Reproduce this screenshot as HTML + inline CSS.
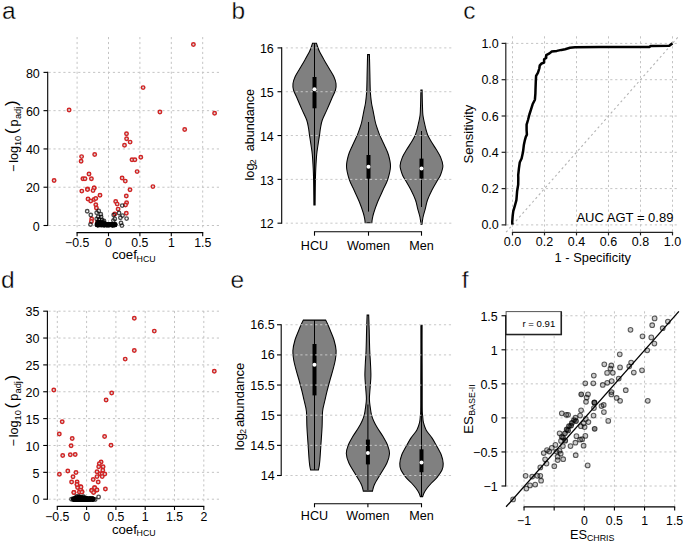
<!DOCTYPE html>
<html><head><meta charset="utf-8"><style>
html,body{margin:0;padding:0;background:#fff;}
svg{display:block;}
text{font-family:"Liberation Sans",sans-serif;fill:#000;}
</style></head><body>
<svg width="685" height="543" viewBox="0 0 685 543">
<rect width="685" height="543" fill="#fff"/>
<text x="2.10" y="18.60" font-size="24.5" text-anchor="start" stroke="#fff" stroke-width="0.35">a</text>
<line x1="77.10" y1="37.00" x2="77.10" y2="229.00" stroke="#c4c4c4" stroke-width="1" stroke-dasharray="2.2 2.75" fill="none"/>
<line x1="108.50" y1="37.00" x2="108.50" y2="229.00" stroke="#c4c4c4" stroke-width="1" stroke-dasharray="2.2 2.75" fill="none"/>
<line x1="139.90" y1="37.00" x2="139.90" y2="229.00" stroke="#c4c4c4" stroke-width="1" stroke-dasharray="2.2 2.75" fill="none"/>
<line x1="171.30" y1="37.00" x2="171.30" y2="229.00" stroke="#c4c4c4" stroke-width="1" stroke-dasharray="2.2 2.75" fill="none"/>
<line x1="202.70" y1="37.00" x2="202.70" y2="229.00" stroke="#c4c4c4" stroke-width="1" stroke-dasharray="2.2 2.75" fill="none"/>
<line x1="48.50" y1="72.38" x2="220.00" y2="72.38" stroke="#c4c4c4" stroke-width="1" stroke-dasharray="2.2 2.75" fill="none"/>
<line x1="48.50" y1="110.66" x2="220.00" y2="110.66" stroke="#c4c4c4" stroke-width="1" stroke-dasharray="2.2 2.75" fill="none"/>
<line x1="48.50" y1="148.94" x2="220.00" y2="148.94" stroke="#c4c4c4" stroke-width="1" stroke-dasharray="2.2 2.75" fill="none"/>
<line x1="48.50" y1="187.22" x2="220.00" y2="187.22" stroke="#c4c4c4" stroke-width="1" stroke-dasharray="2.2 2.75" fill="none"/>
<line x1="48.50" y1="225.50" x2="220.00" y2="225.50" stroke="#c4c4c4" stroke-width="1" stroke-dasharray="2.2 2.75" fill="none"/>
<line x1="47.70" y1="72.38" x2="47.70" y2="225.50" stroke="#000" stroke-width="1.1" fill="none" stroke-linecap="square"/>
<line x1="43.50" y1="72.38" x2="47.70" y2="72.38" stroke="#000" stroke-width="1.1" fill="none"/>
<text x="39.80" y="77.63" font-size="12.5" text-anchor="end" >80</text>
<line x1="43.50" y1="110.66" x2="47.70" y2="110.66" stroke="#000" stroke-width="1.1" fill="none"/>
<text x="39.80" y="115.91" font-size="12.5" text-anchor="end" >60</text>
<line x1="43.50" y1="148.94" x2="47.70" y2="148.94" stroke="#000" stroke-width="1.1" fill="none"/>
<text x="39.80" y="154.19" font-size="12.5" text-anchor="end" >40</text>
<line x1="43.50" y1="187.22" x2="47.70" y2="187.22" stroke="#000" stroke-width="1.1" fill="none"/>
<text x="39.80" y="192.47" font-size="12.5" text-anchor="end" >20</text>
<line x1="43.50" y1="225.50" x2="47.70" y2="225.50" stroke="#000" stroke-width="1.1" fill="none"/>
<text x="39.80" y="230.75" font-size="12.5" text-anchor="end" >0</text>
<line x1="77.10" y1="232.60" x2="202.70" y2="232.60" stroke="#000" stroke-width="1.1" fill="none" stroke-linecap="square"/>
<line x1="77.10" y1="232.60" x2="77.10" y2="236.20" stroke="#000" stroke-width="1.1" fill="none"/>
<text x="77.10" y="246.80" font-size="12.3" text-anchor="middle" >−0.5</text>
<line x1="108.50" y1="232.60" x2="108.50" y2="236.20" stroke="#000" stroke-width="1.1" fill="none"/>
<text x="108.50" y="246.80" font-size="12.3" text-anchor="middle" >0</text>
<line x1="139.90" y1="232.60" x2="139.90" y2="236.20" stroke="#000" stroke-width="1.1" fill="none"/>
<text x="139.90" y="246.80" font-size="12.3" text-anchor="middle" >0.5</text>
<line x1="171.30" y1="232.60" x2="171.30" y2="236.20" stroke="#000" stroke-width="1.1" fill="none"/>
<text x="171.30" y="246.80" font-size="12.3" text-anchor="middle" >1</text>
<line x1="202.70" y1="232.60" x2="202.70" y2="236.20" stroke="#000" stroke-width="1.1" fill="none"/>
<text x="202.70" y="246.80" font-size="12.3" text-anchor="middle" >1.5</text>
<text x="111.9" y="259.4" font-size="13.2">coef</text><text x="136.6" y="261.6" font-size="8.8">HCU</text>
<g transform="translate(18.20,171.40) rotate(-90)">
<text x="-0.60" y="0.00" font-size="12.6">−</text>
<text x="8.60" y="0.00" font-size="12.6">log</text>
<text x="25.30" y="2.60" font-size="9.3">10</text>
<text x="37.30" y="-1.30" font-size="16.6">(</text>
<text x="45.00" y="0.00" font-size="12.6">p</text>
<text x="52.30" y="2.60" font-size="9.3">adj</text>
<text x="65.40" y="-1.30" font-size="16.6">)</text>
</g>
<circle cx="54.10" cy="180.50" r="1.75" fill="#d9dadb" stroke="#d12424" stroke-width="1.45"/>
<circle cx="69.10" cy="110.00" r="1.75" fill="#d9dadb" stroke="#d12424" stroke-width="1.45"/>
<circle cx="81.60" cy="156.60" r="1.75" fill="#d9dadb" stroke="#d12424" stroke-width="1.45"/>
<circle cx="81.10" cy="161.30" r="1.75" fill="#d9dadb" stroke="#d12424" stroke-width="1.45"/>
<circle cx="94.70" cy="154.40" r="1.75" fill="#d9dadb" stroke="#d12424" stroke-width="1.45"/>
<circle cx="89.00" cy="173.90" r="1.75" fill="#d9dadb" stroke="#d12424" stroke-width="1.45"/>
<circle cx="82.90" cy="178.70" r="1.75" fill="#d9dadb" stroke="#d12424" stroke-width="1.45"/>
<circle cx="85.00" cy="178.70" r="1.75" fill="#d9dadb" stroke="#d12424" stroke-width="1.45"/>
<circle cx="91.40" cy="178.70" r="1.75" fill="#d9dadb" stroke="#d12424" stroke-width="1.45"/>
<circle cx="87.50" cy="188.90" r="1.75" fill="#d9dadb" stroke="#d12424" stroke-width="1.45"/>
<circle cx="94.20" cy="188.00" r="1.75" fill="#d9dadb" stroke="#d12424" stroke-width="1.45"/>
<circle cx="81.80" cy="191.10" r="1.75" fill="#d9dadb" stroke="#d12424" stroke-width="1.45"/>
<circle cx="87.50" cy="189.40" r="1.75" fill="#d9dadb" stroke="#d12424" stroke-width="1.45"/>
<circle cx="94.10" cy="187.90" r="1.75" fill="#d9dadb" stroke="#d12424" stroke-width="1.45"/>
<circle cx="93.00" cy="190.60" r="1.75" fill="#d9dadb" stroke="#d12424" stroke-width="1.45"/>
<circle cx="100.00" cy="195.20" r="1.75" fill="#d9dadb" stroke="#d12424" stroke-width="1.45"/>
<circle cx="88.00" cy="198.90" r="1.75" fill="#d9dadb" stroke="#d12424" stroke-width="1.45"/>
<circle cx="90.70" cy="201.00" r="1.75" fill="#d9dadb" stroke="#d12424" stroke-width="1.45"/>
<circle cx="94.10" cy="199.40" r="1.75" fill="#d9dadb" stroke="#d12424" stroke-width="1.45"/>
<circle cx="95.80" cy="198.40" r="1.75" fill="#d9dadb" stroke="#d12424" stroke-width="1.45"/>
<circle cx="95.80" cy="204.70" r="1.75" fill="#d9dadb" stroke="#d12424" stroke-width="1.45"/>
<circle cx="96.40" cy="208.00" r="1.75" fill="#d9dadb" stroke="#d12424" stroke-width="1.45"/>
<circle cx="91.70" cy="218.90" r="1.75" fill="#d9dadb" stroke="#d12424" stroke-width="1.45"/>
<circle cx="91.40" cy="221.50" r="1.75" fill="#d9dadb" stroke="#d12424" stroke-width="1.45"/>
<circle cx="97.60" cy="222.10" r="1.75" fill="#d9dadb" stroke="#d12424" stroke-width="1.45"/>
<circle cx="126.50" cy="133.70" r="1.75" fill="#d9dadb" stroke="#d12424" stroke-width="1.45"/>
<circle cx="126.60" cy="138.80" r="1.75" fill="#d9dadb" stroke="#d12424" stroke-width="1.45"/>
<circle cx="130.10" cy="142.10" r="1.75" fill="#d9dadb" stroke="#d12424" stroke-width="1.45"/>
<circle cx="124.50" cy="145.20" r="1.75" fill="#d9dadb" stroke="#d12424" stroke-width="1.45"/>
<circle cx="140.80" cy="157.20" r="1.75" fill="#d9dadb" stroke="#d12424" stroke-width="1.45"/>
<circle cx="132.00" cy="159.80" r="1.75" fill="#d9dadb" stroke="#d12424" stroke-width="1.45"/>
<circle cx="134.90" cy="159.80" r="1.75" fill="#d9dadb" stroke="#d12424" stroke-width="1.45"/>
<circle cx="137.10" cy="171.60" r="1.75" fill="#d9dadb" stroke="#d12424" stroke-width="1.45"/>
<circle cx="122.10" cy="178.00" r="1.75" fill="#d9dadb" stroke="#d12424" stroke-width="1.45"/>
<circle cx="125.30" cy="181.10" r="1.75" fill="#d9dadb" stroke="#d12424" stroke-width="1.45"/>
<circle cx="130.00" cy="189.70" r="1.75" fill="#d9dadb" stroke="#d12424" stroke-width="1.45"/>
<circle cx="126.30" cy="195.90" r="1.75" fill="#d9dadb" stroke="#d12424" stroke-width="1.45"/>
<circle cx="115.70" cy="201.50" r="1.75" fill="#d9dadb" stroke="#d12424" stroke-width="1.45"/>
<circle cx="117.20" cy="204.10" r="1.75" fill="#d9dadb" stroke="#d12424" stroke-width="1.45"/>
<circle cx="126.60" cy="202.70" r="1.75" fill="#d9dadb" stroke="#d12424" stroke-width="1.45"/>
<circle cx="125.50" cy="205.00" r="1.75" fill="#d9dadb" stroke="#d12424" stroke-width="1.45"/>
<circle cx="118.10" cy="209.10" r="1.75" fill="#d9dadb" stroke="#d12424" stroke-width="1.45"/>
<circle cx="114.80" cy="213.90" r="1.75" fill="#d9dadb" stroke="#d12424" stroke-width="1.45"/>
<circle cx="126.30" cy="213.30" r="1.75" fill="#d9dadb" stroke="#d12424" stroke-width="1.45"/>
<circle cx="143.10" cy="87.60" r="1.75" fill="#d9dadb" stroke="#d12424" stroke-width="1.45"/>
<circle cx="159.90" cy="112.00" r="1.75" fill="#d9dadb" stroke="#d12424" stroke-width="1.45"/>
<circle cx="214.60" cy="113.30" r="1.75" fill="#d9dadb" stroke="#d12424" stroke-width="1.45"/>
<circle cx="184.70" cy="129.40" r="1.75" fill="#d9dadb" stroke="#d12424" stroke-width="1.45"/>
<circle cx="193.40" cy="44.40" r="1.75" fill="#d9dadb" stroke="#d12424" stroke-width="1.45"/>
<circle cx="152.90" cy="186.60" r="1.75" fill="#d9dadb" stroke="#d12424" stroke-width="1.45"/>
<circle cx="103.02" cy="224.66" r="1.75" fill="none" stroke="rgba(0,0,0,0.6)" stroke-width="1.35"/>
<circle cx="109.11" cy="224.63" r="1.75" fill="none" stroke="rgba(0,0,0,0.6)" stroke-width="1.35"/>
<circle cx="106.97" cy="224.75" r="1.75" fill="none" stroke="rgba(0,0,0,0.6)" stroke-width="1.35"/>
<circle cx="98.08" cy="224.80" r="1.75" fill="none" stroke="rgba(0,0,0,0.6)" stroke-width="1.35"/>
<circle cx="97.70" cy="224.77" r="1.75" fill="none" stroke="rgba(0,0,0,0.6)" stroke-width="1.35"/>
<circle cx="98.30" cy="224.64" r="1.75" fill="none" stroke="rgba(0,0,0,0.6)" stroke-width="1.35"/>
<circle cx="104.90" cy="224.93" r="1.75" fill="none" stroke="rgba(0,0,0,0.6)" stroke-width="1.35"/>
<circle cx="99.30" cy="224.69" r="1.75" fill="none" stroke="rgba(0,0,0,0.6)" stroke-width="1.35"/>
<circle cx="108.67" cy="224.98" r="1.75" fill="none" stroke="rgba(0,0,0,0.6)" stroke-width="1.35"/>
<circle cx="107.73" cy="224.76" r="1.75" fill="none" stroke="rgba(0,0,0,0.6)" stroke-width="1.35"/>
<circle cx="115.16" cy="224.62" r="1.75" fill="none" stroke="rgba(0,0,0,0.6)" stroke-width="1.35"/>
<circle cx="112.97" cy="224.72" r="1.75" fill="none" stroke="rgba(0,0,0,0.6)" stroke-width="1.35"/>
<circle cx="99.68" cy="224.65" r="1.75" fill="none" stroke="rgba(0,0,0,0.6)" stroke-width="1.35"/>
<circle cx="102.74" cy="224.93" r="1.75" fill="none" stroke="rgba(0,0,0,0.6)" stroke-width="1.35"/>
<circle cx="100.36" cy="224.83" r="1.75" fill="none" stroke="rgba(0,0,0,0.6)" stroke-width="1.35"/>
<circle cx="108.88" cy="224.75" r="1.75" fill="none" stroke="rgba(0,0,0,0.6)" stroke-width="1.35"/>
<circle cx="107.19" cy="224.63" r="1.75" fill="none" stroke="rgba(0,0,0,0.6)" stroke-width="1.35"/>
<circle cx="98.11" cy="224.68" r="1.75" fill="none" stroke="rgba(0,0,0,0.6)" stroke-width="1.35"/>
<circle cx="109.66" cy="224.77" r="1.75" fill="none" stroke="rgba(0,0,0,0.6)" stroke-width="1.35"/>
<circle cx="102.84" cy="224.83" r="1.75" fill="none" stroke="rgba(0,0,0,0.6)" stroke-width="1.35"/>
<circle cx="105.43" cy="224.72" r="1.75" fill="none" stroke="rgba(0,0,0,0.6)" stroke-width="1.35"/>
<circle cx="111.78" cy="224.88" r="1.75" fill="none" stroke="rgba(0,0,0,0.6)" stroke-width="1.35"/>
<circle cx="101.54" cy="224.83" r="1.75" fill="none" stroke="rgba(0,0,0,0.6)" stroke-width="1.35"/>
<circle cx="106.77" cy="224.95" r="1.75" fill="none" stroke="rgba(0,0,0,0.6)" stroke-width="1.35"/>
<circle cx="110.57" cy="224.72" r="1.75" fill="none" stroke="rgba(0,0,0,0.6)" stroke-width="1.35"/>
<circle cx="115.23" cy="224.65" r="1.75" fill="none" stroke="rgba(0,0,0,0.6)" stroke-width="1.35"/>
<circle cx="104.78" cy="224.90" r="1.75" fill="none" stroke="rgba(0,0,0,0.6)" stroke-width="1.35"/>
<circle cx="99.83" cy="224.80" r="1.75" fill="none" stroke="rgba(0,0,0,0.6)" stroke-width="1.35"/>
<circle cx="97.73" cy="224.87" r="1.75" fill="none" stroke="rgba(0,0,0,0.6)" stroke-width="1.35"/>
<circle cx="111.22" cy="224.83" r="1.75" fill="none" stroke="rgba(0,0,0,0.6)" stroke-width="1.35"/>
<circle cx="113.28" cy="224.73" r="1.75" fill="none" stroke="rgba(0,0,0,0.6)" stroke-width="1.35"/>
<circle cx="109.93" cy="224.84" r="1.75" fill="none" stroke="rgba(0,0,0,0.6)" stroke-width="1.35"/>
<circle cx="107.79" cy="224.78" r="1.75" fill="none" stroke="rgba(0,0,0,0.6)" stroke-width="1.35"/>
<circle cx="112.62" cy="224.98" r="1.75" fill="none" stroke="rgba(0,0,0,0.6)" stroke-width="1.35"/>
<circle cx="105.82" cy="224.87" r="1.75" fill="none" stroke="rgba(0,0,0,0.6)" stroke-width="1.35"/>
<circle cx="98.13" cy="224.88" r="1.75" fill="none" stroke="rgba(0,0,0,0.6)" stroke-width="1.35"/>
<circle cx="109.04" cy="225.00" r="1.75" fill="none" stroke="rgba(0,0,0,0.6)" stroke-width="1.35"/>
<circle cx="112.29" cy="224.71" r="1.75" fill="none" stroke="rgba(0,0,0,0.6)" stroke-width="1.35"/>
<circle cx="104.18" cy="224.87" r="1.75" fill="none" stroke="rgba(0,0,0,0.6)" stroke-width="1.35"/>
<circle cx="97.42" cy="224.78" r="1.75" fill="none" stroke="rgba(0,0,0,0.6)" stroke-width="1.35"/>
<circle cx="100.13" cy="224.65" r="1.75" fill="none" stroke="rgba(0,0,0,0.6)" stroke-width="1.35"/>
<circle cx="98.10" cy="224.91" r="1.75" fill="none" stroke="rgba(0,0,0,0.6)" stroke-width="1.35"/>
<circle cx="99.41" cy="224.70" r="1.75" fill="none" stroke="rgba(0,0,0,0.6)" stroke-width="1.35"/>
<circle cx="104.27" cy="224.95" r="1.75" fill="none" stroke="rgba(0,0,0,0.6)" stroke-width="1.35"/>
<circle cx="98.50" cy="224.78" r="1.75" fill="none" stroke="rgba(0,0,0,0.6)" stroke-width="1.35"/>
<circle cx="107.22" cy="224.95" r="1.75" fill="none" stroke="rgba(0,0,0,0.6)" stroke-width="1.35"/>
<circle cx="112.24" cy="224.95" r="1.75" fill="none" stroke="rgba(0,0,0,0.6)" stroke-width="1.35"/>
<circle cx="102.18" cy="224.77" r="1.75" fill="none" stroke="rgba(0,0,0,0.6)" stroke-width="1.35"/>
<circle cx="103.67" cy="224.95" r="1.75" fill="none" stroke="rgba(0,0,0,0.6)" stroke-width="1.35"/>
<circle cx="114.81" cy="224.66" r="1.75" fill="none" stroke="rgba(0,0,0,0.6)" stroke-width="1.35"/>
<circle cx="100.28" cy="224.69" r="1.75" fill="none" stroke="rgba(0,0,0,0.6)" stroke-width="1.35"/>
<circle cx="101.34" cy="224.79" r="1.75" fill="none" stroke="rgba(0,0,0,0.6)" stroke-width="1.35"/>
<circle cx="107.96" cy="224.71" r="1.75" fill="none" stroke="rgba(0,0,0,0.6)" stroke-width="1.35"/>
<circle cx="97.08" cy="224.77" r="1.75" fill="none" stroke="rgba(0,0,0,0.6)" stroke-width="1.35"/>
<circle cx="103.87" cy="224.83" r="1.75" fill="none" stroke="rgba(0,0,0,0.6)" stroke-width="1.35"/>
<circle cx="114.73" cy="224.88" r="1.75" fill="none" stroke="rgba(0,0,0,0.6)" stroke-width="1.35"/>
<circle cx="106.59" cy="224.85" r="1.75" fill="none" stroke="rgba(0,0,0,0.6)" stroke-width="1.35"/>
<circle cx="109.58" cy="224.62" r="1.75" fill="none" stroke="rgba(0,0,0,0.6)" stroke-width="1.35"/>
<circle cx="113.73" cy="224.91" r="1.75" fill="none" stroke="rgba(0,0,0,0.6)" stroke-width="1.35"/>
<circle cx="113.27" cy="224.92" r="1.75" fill="none" stroke="rgba(0,0,0,0.6)" stroke-width="1.35"/>
<circle cx="104.30" cy="224.76" r="1.75" fill="none" stroke="rgba(0,0,0,0.6)" stroke-width="1.35"/>
<circle cx="98.93" cy="224.85" r="1.75" fill="none" stroke="rgba(0,0,0,0.6)" stroke-width="1.35"/>
<circle cx="98.16" cy="224.63" r="1.75" fill="none" stroke="rgba(0,0,0,0.6)" stroke-width="1.35"/>
<circle cx="100.88" cy="224.66" r="1.75" fill="none" stroke="rgba(0,0,0,0.6)" stroke-width="1.35"/>
<circle cx="103.32" cy="224.62" r="1.75" fill="none" stroke="rgba(0,0,0,0.6)" stroke-width="1.35"/>
<circle cx="97.00" cy="224.66" r="1.75" fill="none" stroke="rgba(0,0,0,0.6)" stroke-width="1.35"/>
<circle cx="98.89" cy="224.75" r="1.75" fill="none" stroke="rgba(0,0,0,0.6)" stroke-width="1.35"/>
<circle cx="97.47" cy="224.95" r="1.75" fill="none" stroke="rgba(0,0,0,0.6)" stroke-width="1.35"/>
<circle cx="108.42" cy="224.66" r="1.75" fill="none" stroke="rgba(0,0,0,0.6)" stroke-width="1.35"/>
<circle cx="101.69" cy="224.74" r="1.75" fill="none" stroke="rgba(0,0,0,0.6)" stroke-width="1.35"/>
<circle cx="103.77" cy="224.65" r="1.75" fill="none" stroke="rgba(0,0,0,0.6)" stroke-width="1.35"/>
<circle cx="112.79" cy="225.00" r="1.75" fill="none" stroke="rgba(0,0,0,0.6)" stroke-width="1.35"/>
<circle cx="105.67" cy="224.79" r="1.75" fill="none" stroke="rgba(0,0,0,0.6)" stroke-width="1.35"/>
<circle cx="98.60" cy="224.64" r="1.75" fill="none" stroke="rgba(0,0,0,0.6)" stroke-width="1.35"/>
<circle cx="103.37" cy="224.71" r="1.75" fill="none" stroke="rgba(0,0,0,0.6)" stroke-width="1.35"/>
<circle cx="112.42" cy="224.66" r="1.75" fill="none" stroke="rgba(0,0,0,0.6)" stroke-width="1.35"/>
<circle cx="97.43" cy="224.98" r="1.75" fill="none" stroke="rgba(0,0,0,0.6)" stroke-width="1.35"/>
<circle cx="106.83" cy="224.66" r="1.75" fill="none" stroke="rgba(0,0,0,0.6)" stroke-width="1.35"/>
<circle cx="107.10" cy="224.61" r="1.75" fill="none" stroke="rgba(0,0,0,0.6)" stroke-width="1.35"/>
<circle cx="106.82" cy="224.99" r="1.75" fill="none" stroke="rgba(0,0,0,0.6)" stroke-width="1.35"/>
<circle cx="113.06" cy="224.88" r="1.75" fill="none" stroke="rgba(0,0,0,0.6)" stroke-width="1.35"/>
<circle cx="101.86" cy="224.75" r="1.75" fill="none" stroke="rgba(0,0,0,0.6)" stroke-width="1.35"/>
<circle cx="100.11" cy="224.91" r="1.75" fill="none" stroke="rgba(0,0,0,0.6)" stroke-width="1.35"/>
<circle cx="106.91" cy="224.91" r="1.75" fill="none" stroke="rgba(0,0,0,0.6)" stroke-width="1.35"/>
<circle cx="103.13" cy="224.69" r="1.75" fill="none" stroke="rgba(0,0,0,0.6)" stroke-width="1.35"/>
<circle cx="112.09" cy="224.99" r="1.75" fill="none" stroke="rgba(0,0,0,0.6)" stroke-width="1.35"/>
<circle cx="112.86" cy="224.92" r="1.75" fill="none" stroke="rgba(0,0,0,0.6)" stroke-width="1.35"/>
<circle cx="112.22" cy="224.90" r="1.75" fill="none" stroke="rgba(0,0,0,0.6)" stroke-width="1.35"/>
<circle cx="101.22" cy="224.81" r="1.75" fill="none" stroke="rgba(0,0,0,0.6)" stroke-width="1.35"/>
<circle cx="103.61" cy="224.61" r="1.75" fill="none" stroke="rgba(0,0,0,0.6)" stroke-width="1.35"/>
<circle cx="97.52" cy="224.71" r="1.75" fill="none" stroke="rgba(0,0,0,0.6)" stroke-width="1.35"/>
<circle cx="101.82" cy="224.88" r="1.75" fill="none" stroke="rgba(0,0,0,0.6)" stroke-width="1.35"/>
<circle cx="114.79" cy="224.78" r="1.75" fill="none" stroke="rgba(0,0,0,0.6)" stroke-width="1.35"/>
<circle cx="114.43" cy="225.00" r="1.75" fill="none" stroke="rgba(0,0,0,0.6)" stroke-width="1.35"/>
<circle cx="114.76" cy="224.75" r="1.75" fill="none" stroke="rgba(0,0,0,0.6)" stroke-width="1.35"/>
<circle cx="101.10" cy="224.69" r="1.75" fill="none" stroke="rgba(0,0,0,0.6)" stroke-width="1.35"/>
<circle cx="100.66" cy="224.68" r="1.75" fill="none" stroke="rgba(0,0,0,0.6)" stroke-width="1.35"/>
<circle cx="108.61" cy="224.96" r="1.75" fill="none" stroke="rgba(0,0,0,0.6)" stroke-width="1.35"/>
<circle cx="112.63" cy="224.79" r="1.75" fill="none" stroke="rgba(0,0,0,0.6)" stroke-width="1.35"/>
<circle cx="109.15" cy="224.92" r="1.75" fill="none" stroke="rgba(0,0,0,0.6)" stroke-width="1.35"/>
<circle cx="98.58" cy="224.86" r="1.75" fill="none" stroke="rgba(0,0,0,0.6)" stroke-width="1.35"/>
<circle cx="113.92" cy="224.91" r="1.75" fill="none" stroke="rgba(0,0,0,0.6)" stroke-width="1.35"/>
<circle cx="110.95" cy="224.79" r="1.75" fill="none" stroke="rgba(0,0,0,0.6)" stroke-width="1.35"/>
<circle cx="100.32" cy="224.92" r="1.75" fill="none" stroke="rgba(0,0,0,0.6)" stroke-width="1.35"/>
<circle cx="103.18" cy="224.92" r="1.75" fill="none" stroke="rgba(0,0,0,0.6)" stroke-width="1.35"/>
<circle cx="115.07" cy="224.76" r="1.75" fill="none" stroke="rgba(0,0,0,0.6)" stroke-width="1.35"/>
<circle cx="104.47" cy="224.98" r="1.75" fill="none" stroke="rgba(0,0,0,0.6)" stroke-width="1.35"/>
<circle cx="110.48" cy="224.67" r="1.75" fill="none" stroke="rgba(0,0,0,0.6)" stroke-width="1.35"/>
<circle cx="99.36" cy="224.66" r="1.75" fill="none" stroke="rgba(0,0,0,0.6)" stroke-width="1.35"/>
<circle cx="113.83" cy="224.92" r="1.75" fill="none" stroke="rgba(0,0,0,0.6)" stroke-width="1.35"/>
<circle cx="98.10" cy="223.62" r="1.75" fill="none" stroke="rgba(0,0,0,0.6)" stroke-width="1.35"/>
<circle cx="104.35" cy="223.25" r="1.75" fill="none" stroke="rgba(0,0,0,0.6)" stroke-width="1.35"/>
<circle cx="99.63" cy="223.01" r="1.75" fill="none" stroke="rgba(0,0,0,0.6)" stroke-width="1.35"/>
<circle cx="97.98" cy="221.83" r="1.75" fill="none" stroke="rgba(0,0,0,0.6)" stroke-width="1.35"/>
<circle cx="104.28" cy="223.23" r="1.75" fill="none" stroke="rgba(0,0,0,0.6)" stroke-width="1.35"/>
<circle cx="100.95" cy="223.85" r="1.75" fill="none" stroke="rgba(0,0,0,0.6)" stroke-width="1.35"/>
<circle cx="100.25" cy="223.72" r="1.75" fill="none" stroke="rgba(0,0,0,0.6)" stroke-width="1.35"/>
<circle cx="103.20" cy="222.26" r="1.75" fill="none" stroke="rgba(0,0,0,0.6)" stroke-width="1.35"/>
<circle cx="98.89" cy="222.44" r="1.75" fill="none" stroke="rgba(0,0,0,0.6)" stroke-width="1.35"/>
<circle cx="98.80" cy="223.09" r="1.75" fill="none" stroke="rgba(0,0,0,0.6)" stroke-width="1.35"/>
<circle cx="98.95" cy="222.72" r="1.75" fill="none" stroke="rgba(0,0,0,0.6)" stroke-width="1.35"/>
<circle cx="97.98" cy="223.80" r="1.75" fill="none" stroke="rgba(0,0,0,0.6)" stroke-width="1.35"/>
<circle cx="99.65" cy="222.81" r="1.75" fill="none" stroke="rgba(0,0,0,0.6)" stroke-width="1.35"/>
<circle cx="101.38" cy="223.79" r="1.75" fill="none" stroke="rgba(0,0,0,0.6)" stroke-width="1.35"/>
<circle cx="100.15" cy="223.82" r="1.75" fill="none" stroke="rgba(0,0,0,0.6)" stroke-width="1.35"/>
<circle cx="100.76" cy="222.97" r="1.75" fill="none" stroke="rgba(0,0,0,0.6)" stroke-width="1.35"/>
<circle cx="100.93" cy="221.84" r="1.75" fill="none" stroke="rgba(0,0,0,0.6)" stroke-width="1.35"/>
<circle cx="100.30" cy="222.20" r="1.75" fill="none" stroke="rgba(0,0,0,0.6)" stroke-width="1.35"/>
<circle cx="97.03" cy="223.56" r="1.75" fill="none" stroke="rgba(0,0,0,0.6)" stroke-width="1.35"/>
<circle cx="98.29" cy="222.84" r="1.75" fill="none" stroke="rgba(0,0,0,0.6)" stroke-width="1.35"/>
<circle cx="102.44" cy="223.02" r="1.75" fill="none" stroke="rgba(0,0,0,0.6)" stroke-width="1.35"/>
<circle cx="99.44" cy="222.94" r="1.75" fill="none" stroke="rgba(0,0,0,0.6)" stroke-width="1.35"/>
<circle cx="87.20" cy="211.20" r="1.75" fill="none" stroke="rgba(0,0,0,0.7)" stroke-width="1.35"/>
<circle cx="98.70" cy="210.90" r="1.75" fill="none" stroke="rgba(0,0,0,0.7)" stroke-width="1.35"/>
<circle cx="96.70" cy="212.70" r="1.75" fill="none" stroke="rgba(0,0,0,0.7)" stroke-width="1.35"/>
<circle cx="100.80" cy="214.20" r="1.75" fill="none" stroke="rgba(0,0,0,0.7)" stroke-width="1.35"/>
<circle cx="90.80" cy="215.00" r="1.75" fill="none" stroke="rgba(0,0,0,0.7)" stroke-width="1.35"/>
<circle cx="101.10" cy="216.80" r="1.75" fill="none" stroke="rgba(0,0,0,0.7)" stroke-width="1.35"/>
<circle cx="98.20" cy="216.80" r="1.75" fill="none" stroke="rgba(0,0,0,0.7)" stroke-width="1.35"/>
<circle cx="96.70" cy="218.90" r="1.75" fill="none" stroke="rgba(0,0,0,0.7)" stroke-width="1.35"/>
<circle cx="90.50" cy="224.50" r="1.75" fill="none" stroke="rgba(0,0,0,0.7)" stroke-width="1.35"/>
<circle cx="122.20" cy="205.60" r="1.75" fill="none" stroke="rgba(0,0,0,0.7)" stroke-width="1.35"/>
<circle cx="119.00" cy="213.00" r="1.75" fill="none" stroke="rgba(0,0,0,0.7)" stroke-width="1.35"/>
<circle cx="113.70" cy="215.00" r="1.75" fill="none" stroke="rgba(0,0,0,0.7)" stroke-width="1.35"/>
<circle cx="120.40" cy="217.70" r="1.75" fill="none" stroke="rgba(0,0,0,0.7)" stroke-width="1.35"/>
<circle cx="122.50" cy="215.60" r="1.75" fill="none" stroke="rgba(0,0,0,0.7)" stroke-width="1.35"/>
<circle cx="126.60" cy="218.60" r="1.75" fill="none" stroke="rgba(0,0,0,0.7)" stroke-width="1.35"/>
<circle cx="113.40" cy="220.60" r="1.75" fill="none" stroke="rgba(0,0,0,0.7)" stroke-width="1.35"/>
<circle cx="121.00" cy="223.00" r="1.75" fill="none" stroke="rgba(0,0,0,0.7)" stroke-width="1.35"/>
<circle cx="121.90" cy="225.60" r="1.75" fill="none" stroke="rgba(0,0,0,0.7)" stroke-width="1.35"/>
<circle cx="114.80" cy="218.90" r="1.75" fill="none" stroke="rgba(0,0,0,0.7)" stroke-width="1.35"/>
<circle cx="99.00" cy="219.50" r="1.75" fill="none" stroke="rgba(0,0,0,0.7)" stroke-width="1.35"/>
<circle cx="102.00" cy="220.00" r="1.75" fill="none" stroke="rgba(0,0,0,0.7)" stroke-width="1.35"/>
<circle cx="104.00" cy="221.00" r="1.75" fill="none" stroke="rgba(0,0,0,0.7)" stroke-width="1.35"/>
<text x="0.90" y="287.70" font-size="24.5" text-anchor="start" stroke="#fff" stroke-width="0.35">d</text>
<line x1="57.30" y1="311.00" x2="57.30" y2="504.00" stroke="#c4c4c4" stroke-width="1" stroke-dasharray="2.2 2.75" fill="none"/>
<line x1="86.60" y1="311.00" x2="86.60" y2="504.00" stroke="#c4c4c4" stroke-width="1" stroke-dasharray="2.2 2.75" fill="none"/>
<line x1="115.90" y1="311.00" x2="115.90" y2="504.00" stroke="#c4c4c4" stroke-width="1" stroke-dasharray="2.2 2.75" fill="none"/>
<line x1="145.20" y1="311.00" x2="145.20" y2="504.00" stroke="#c4c4c4" stroke-width="1" stroke-dasharray="2.2 2.75" fill="none"/>
<line x1="174.50" y1="311.00" x2="174.50" y2="504.00" stroke="#c4c4c4" stroke-width="1" stroke-dasharray="2.2 2.75" fill="none"/>
<line x1="203.80" y1="311.00" x2="203.80" y2="504.00" stroke="#c4c4c4" stroke-width="1" stroke-dasharray="2.2 2.75" fill="none"/>
<line x1="48.50" y1="311.18" x2="219.50" y2="311.18" stroke="#c4c4c4" stroke-width="1" stroke-dasharray="2.2 2.75" fill="none"/>
<line x1="48.50" y1="338.04" x2="219.50" y2="338.04" stroke="#c4c4c4" stroke-width="1" stroke-dasharray="2.2 2.75" fill="none"/>
<line x1="48.50" y1="364.90" x2="219.50" y2="364.90" stroke="#c4c4c4" stroke-width="1" stroke-dasharray="2.2 2.75" fill="none"/>
<line x1="48.50" y1="391.76" x2="219.50" y2="391.76" stroke="#c4c4c4" stroke-width="1" stroke-dasharray="2.2 2.75" fill="none"/>
<line x1="48.50" y1="418.62" x2="219.50" y2="418.62" stroke="#c4c4c4" stroke-width="1" stroke-dasharray="2.2 2.75" fill="none"/>
<line x1="48.50" y1="445.48" x2="219.50" y2="445.48" stroke="#c4c4c4" stroke-width="1" stroke-dasharray="2.2 2.75" fill="none"/>
<line x1="48.50" y1="472.34" x2="219.50" y2="472.34" stroke="#c4c4c4" stroke-width="1" stroke-dasharray="2.2 2.75" fill="none"/>
<line x1="48.50" y1="499.20" x2="219.50" y2="499.20" stroke="#c4c4c4" stroke-width="1" stroke-dasharray="2.2 2.75" fill="none"/>
<line x1="47.40" y1="311.18" x2="47.40" y2="499.20" stroke="#000" stroke-width="1.1" fill="none" stroke-linecap="square"/>
<line x1="43.20" y1="311.18" x2="47.40" y2="311.18" stroke="#000" stroke-width="1.1" fill="none"/>
<text x="39.50" y="316.43" font-size="12.5" text-anchor="end" >35</text>
<line x1="43.20" y1="338.04" x2="47.40" y2="338.04" stroke="#000" stroke-width="1.1" fill="none"/>
<text x="39.50" y="343.29" font-size="12.5" text-anchor="end" >30</text>
<line x1="43.20" y1="364.90" x2="47.40" y2="364.90" stroke="#000" stroke-width="1.1" fill="none"/>
<text x="39.50" y="370.15" font-size="12.5" text-anchor="end" >25</text>
<line x1="43.20" y1="391.76" x2="47.40" y2="391.76" stroke="#000" stroke-width="1.1" fill="none"/>
<text x="39.50" y="397.01" font-size="12.5" text-anchor="end" >20</text>
<line x1="43.20" y1="418.62" x2="47.40" y2="418.62" stroke="#000" stroke-width="1.1" fill="none"/>
<text x="39.50" y="423.87" font-size="12.5" text-anchor="end" >15</text>
<line x1="43.20" y1="445.48" x2="47.40" y2="445.48" stroke="#000" stroke-width="1.1" fill="none"/>
<text x="39.50" y="450.73" font-size="12.5" text-anchor="end" >10</text>
<line x1="43.20" y1="472.34" x2="47.40" y2="472.34" stroke="#000" stroke-width="1.1" fill="none"/>
<text x="39.50" y="477.59" font-size="12.5" text-anchor="end" >5</text>
<line x1="43.20" y1="499.20" x2="47.40" y2="499.20" stroke="#000" stroke-width="1.1" fill="none"/>
<text x="39.50" y="504.45" font-size="12.5" text-anchor="end" >0</text>
<line x1="57.30" y1="506.40" x2="203.80" y2="506.40" stroke="#000" stroke-width="1.1" fill="none" stroke-linecap="square"/>
<line x1="57.30" y1="506.40" x2="57.30" y2="510.00" stroke="#000" stroke-width="1.1" fill="none"/>
<text x="57.30" y="520.70" font-size="12.3" text-anchor="middle" >−0.5</text>
<line x1="86.60" y1="506.40" x2="86.60" y2="510.00" stroke="#000" stroke-width="1.1" fill="none"/>
<text x="86.60" y="520.70" font-size="12.3" text-anchor="middle" >0</text>
<line x1="115.90" y1="506.40" x2="115.90" y2="510.00" stroke="#000" stroke-width="1.1" fill="none"/>
<text x="115.90" y="520.70" font-size="12.3" text-anchor="middle" >0.5</text>
<line x1="145.20" y1="506.40" x2="145.20" y2="510.00" stroke="#000" stroke-width="1.1" fill="none"/>
<text x="145.20" y="520.70" font-size="12.3" text-anchor="middle" >1</text>
<line x1="174.50" y1="506.40" x2="174.50" y2="510.00" stroke="#000" stroke-width="1.1" fill="none"/>
<text x="174.50" y="520.70" font-size="12.3" text-anchor="middle" >1.5</text>
<line x1="203.80" y1="506.40" x2="203.80" y2="510.00" stroke="#000" stroke-width="1.1" fill="none"/>
<text x="203.80" y="520.70" font-size="12.3" text-anchor="middle" >2</text>
<text x="111.9" y="533.6" font-size="13.2">coef</text><text x="136.6" y="535.8" font-size="8.8">HCU</text>
<g transform="translate(18.40,445.80) rotate(-90)">
<text x="-0.60" y="0.00" font-size="12.6">−</text>
<text x="8.60" y="0.00" font-size="12.6">log</text>
<text x="25.30" y="2.60" font-size="9.3">10</text>
<text x="37.30" y="-1.30" font-size="16.6">(</text>
<text x="45.00" y="0.00" font-size="12.6">p</text>
<text x="52.30" y="2.60" font-size="9.3">adj</text>
<text x="65.40" y="-1.30" font-size="16.6">)</text>
</g>
<circle cx="134.30" cy="318.30" r="1.75" fill="#d9dadb" stroke="#d12424" stroke-width="1.45"/>
<circle cx="154.30" cy="331.10" r="1.75" fill="#d9dadb" stroke="#d12424" stroke-width="1.45"/>
<circle cx="134.30" cy="350.50" r="1.75" fill="#d9dadb" stroke="#d12424" stroke-width="1.45"/>
<circle cx="125.20" cy="359.10" r="1.75" fill="#d9dadb" stroke="#d12424" stroke-width="1.45"/>
<circle cx="214.30" cy="371.20" r="1.75" fill="#d9dadb" stroke="#d12424" stroke-width="1.45"/>
<circle cx="53.80" cy="389.90" r="1.75" fill="#d9dadb" stroke="#d12424" stroke-width="1.45"/>
<circle cx="111.70" cy="393.00" r="1.75" fill="#d9dadb" stroke="#d12424" stroke-width="1.45"/>
<circle cx="106.10" cy="399.90" r="1.75" fill="#d9dadb" stroke="#d12424" stroke-width="1.45"/>
<circle cx="62.20" cy="421.70" r="1.75" fill="#d9dadb" stroke="#d12424" stroke-width="1.45"/>
<circle cx="59.30" cy="433.90" r="1.75" fill="#d9dadb" stroke="#d12424" stroke-width="1.45"/>
<circle cx="72.20" cy="438.50" r="1.75" fill="#d9dadb" stroke="#d12424" stroke-width="1.45"/>
<circle cx="104.60" cy="436.40" r="1.75" fill="#d9dadb" stroke="#d12424" stroke-width="1.45"/>
<circle cx="71.10" cy="445.70" r="1.75" fill="#d9dadb" stroke="#d12424" stroke-width="1.45"/>
<circle cx="111.00" cy="445.20" r="1.75" fill="#d9dadb" stroke="#d12424" stroke-width="1.45"/>
<circle cx="62.70" cy="455.40" r="1.75" fill="#d9dadb" stroke="#d12424" stroke-width="1.45"/>
<circle cx="70.30" cy="454.80" r="1.75" fill="#d9dadb" stroke="#d12424" stroke-width="1.45"/>
<circle cx="75.20" cy="454.40" r="1.75" fill="#d9dadb" stroke="#d12424" stroke-width="1.45"/>
<circle cx="59.40" cy="474.30" r="1.75" fill="#d9dadb" stroke="#d12424" stroke-width="1.45"/>
<circle cx="67.80" cy="471.00" r="1.75" fill="#d9dadb" stroke="#d12424" stroke-width="1.45"/>
<circle cx="76.00" cy="472.50" r="1.75" fill="#d9dadb" stroke="#d12424" stroke-width="1.45"/>
<circle cx="73.00" cy="476.80" r="1.75" fill="#d9dadb" stroke="#d12424" stroke-width="1.45"/>
<circle cx="71.60" cy="481.90" r="1.75" fill="#d9dadb" stroke="#d12424" stroke-width="1.45"/>
<circle cx="77.10" cy="481.90" r="1.75" fill="#d9dadb" stroke="#d12424" stroke-width="1.45"/>
<circle cx="77.10" cy="484.80" r="1.75" fill="#d9dadb" stroke="#d12424" stroke-width="1.45"/>
<circle cx="80.60" cy="486.80" r="1.75" fill="#d9dadb" stroke="#d12424" stroke-width="1.45"/>
<circle cx="80.60" cy="489.80" r="1.75" fill="#d9dadb" stroke="#d12424" stroke-width="1.45"/>
<circle cx="74.00" cy="492.40" r="1.75" fill="#d9dadb" stroke="#d12424" stroke-width="1.45"/>
<circle cx="80.00" cy="491.80" r="1.75" fill="#d9dadb" stroke="#d12424" stroke-width="1.45"/>
<circle cx="82.10" cy="491.80" r="1.75" fill="#d9dadb" stroke="#d12424" stroke-width="1.45"/>
<circle cx="101.10" cy="462.00" r="1.75" fill="#d9dadb" stroke="#d12424" stroke-width="1.45"/>
<circle cx="99.30" cy="463.80" r="1.75" fill="#d9dadb" stroke="#d12424" stroke-width="1.45"/>
<circle cx="98.70" cy="466.70" r="1.75" fill="#d9dadb" stroke="#d12424" stroke-width="1.45"/>
<circle cx="103.10" cy="466.70" r="1.75" fill="#d9dadb" stroke="#d12424" stroke-width="1.45"/>
<circle cx="102.80" cy="470.20" r="1.75" fill="#d9dadb" stroke="#d12424" stroke-width="1.45"/>
<circle cx="97.00" cy="471.70" r="1.75" fill="#d9dadb" stroke="#d12424" stroke-width="1.45"/>
<circle cx="100.10" cy="473.70" r="1.75" fill="#d9dadb" stroke="#d12424" stroke-width="1.45"/>
<circle cx="102.20" cy="473.70" r="1.75" fill="#d9dadb" stroke="#d12424" stroke-width="1.45"/>
<circle cx="104.80" cy="474.00" r="1.75" fill="#d9dadb" stroke="#d12424" stroke-width="1.45"/>
<circle cx="97.00" cy="476.60" r="1.75" fill="#d9dadb" stroke="#d12424" stroke-width="1.45"/>
<circle cx="102.20" cy="476.60" r="1.75" fill="#d9dadb" stroke="#d12424" stroke-width="1.45"/>
<circle cx="93.20" cy="479.50" r="1.75" fill="#d9dadb" stroke="#d12424" stroke-width="1.45"/>
<circle cx="98.20" cy="481.90" r="1.75" fill="#d9dadb" stroke="#d12424" stroke-width="1.45"/>
<circle cx="105.40" cy="488.90" r="1.75" fill="#d9dadb" stroke="#d12424" stroke-width="1.45"/>
<circle cx="94.60" cy="487.70" r="1.75" fill="#d9dadb" stroke="#d12424" stroke-width="1.45"/>
<circle cx="91.70" cy="490.30" r="1.75" fill="#d9dadb" stroke="#d12424" stroke-width="1.45"/>
<circle cx="93.50" cy="492.10" r="1.75" fill="#d9dadb" stroke="#d12424" stroke-width="1.45"/>
<circle cx="96.40" cy="490.00" r="1.75" fill="#d9dadb" stroke="#d12424" stroke-width="1.45"/>
<circle cx="73.80" cy="492.40" r="1.75" fill="#d9dadb" stroke="#d12424" stroke-width="1.45"/>
<circle cx="79.40" cy="491.90" r="1.75" fill="#d9dadb" stroke="#d12424" stroke-width="1.45"/>
<circle cx="81.80" cy="491.90" r="1.75" fill="#d9dadb" stroke="#d12424" stroke-width="1.45"/>
<circle cx="80.50" cy="489.30" r="1.75" fill="#d9dadb" stroke="#d12424" stroke-width="1.45"/>
<circle cx="77.60" cy="487.40" r="1.75" fill="#d9dadb" stroke="#d12424" stroke-width="1.45"/>
<circle cx="81.00" cy="486.90" r="1.75" fill="#d9dadb" stroke="#d12424" stroke-width="1.45"/>
<circle cx="77.00" cy="484.50" r="1.75" fill="#d9dadb" stroke="#d12424" stroke-width="1.45"/>
<circle cx="91.70" cy="490.60" r="1.75" fill="#d9dadb" stroke="#d12424" stroke-width="1.45"/>
<circle cx="94.60" cy="487.70" r="1.75" fill="#d9dadb" stroke="#d12424" stroke-width="1.45"/>
<circle cx="97.00" cy="490.00" r="1.75" fill="#d9dadb" stroke="#d12424" stroke-width="1.45"/>
<circle cx="93.60" cy="492.40" r="1.75" fill="#d9dadb" stroke="#d12424" stroke-width="1.45"/>
<circle cx="84.61" cy="499.14" r="1.75" fill="none" stroke="rgba(0,0,0,0.6)" stroke-width="1.35"/>
<circle cx="84.71" cy="498.91" r="1.75" fill="none" stroke="rgba(0,0,0,0.6)" stroke-width="1.35"/>
<circle cx="78.47" cy="498.98" r="1.75" fill="none" stroke="rgba(0,0,0,0.6)" stroke-width="1.35"/>
<circle cx="83.65" cy="499.60" r="1.75" fill="none" stroke="rgba(0,0,0,0.6)" stroke-width="1.35"/>
<circle cx="84.73" cy="499.16" r="1.75" fill="none" stroke="rgba(0,0,0,0.6)" stroke-width="1.35"/>
<circle cx="82.36" cy="498.60" r="1.75" fill="none" stroke="rgba(0,0,0,0.6)" stroke-width="1.35"/>
<circle cx="85.75" cy="498.62" r="1.75" fill="none" stroke="rgba(0,0,0,0.6)" stroke-width="1.35"/>
<circle cx="87.35" cy="499.08" r="1.75" fill="none" stroke="rgba(0,0,0,0.6)" stroke-width="1.35"/>
<circle cx="82.55" cy="498.65" r="1.75" fill="none" stroke="rgba(0,0,0,0.6)" stroke-width="1.35"/>
<circle cx="92.33" cy="499.01" r="1.75" fill="none" stroke="rgba(0,0,0,0.6)" stroke-width="1.35"/>
<circle cx="87.48" cy="499.60" r="1.75" fill="none" stroke="rgba(0,0,0,0.6)" stroke-width="1.35"/>
<circle cx="78.69" cy="498.60" r="1.75" fill="none" stroke="rgba(0,0,0,0.6)" stroke-width="1.35"/>
<circle cx="84.69" cy="499.60" r="1.75" fill="none" stroke="rgba(0,0,0,0.6)" stroke-width="1.35"/>
<circle cx="76.24" cy="498.83" r="1.75" fill="none" stroke="rgba(0,0,0,0.6)" stroke-width="1.35"/>
<circle cx="75.93" cy="498.95" r="1.75" fill="none" stroke="rgba(0,0,0,0.6)" stroke-width="1.35"/>
<circle cx="78.31" cy="499.16" r="1.75" fill="none" stroke="rgba(0,0,0,0.6)" stroke-width="1.35"/>
<circle cx="74.96" cy="498.76" r="1.75" fill="none" stroke="rgba(0,0,0,0.6)" stroke-width="1.35"/>
<circle cx="91.44" cy="498.60" r="1.75" fill="none" stroke="rgba(0,0,0,0.6)" stroke-width="1.35"/>
<circle cx="76.59" cy="498.98" r="1.75" fill="none" stroke="rgba(0,0,0,0.6)" stroke-width="1.35"/>
<circle cx="76.36" cy="498.60" r="1.75" fill="none" stroke="rgba(0,0,0,0.6)" stroke-width="1.35"/>
<circle cx="91.16" cy="499.38" r="1.75" fill="none" stroke="rgba(0,0,0,0.6)" stroke-width="1.35"/>
<circle cx="92.55" cy="499.04" r="1.75" fill="none" stroke="rgba(0,0,0,0.6)" stroke-width="1.35"/>
<circle cx="81.47" cy="498.60" r="1.75" fill="none" stroke="rgba(0,0,0,0.6)" stroke-width="1.35"/>
<circle cx="90.15" cy="499.20" r="1.75" fill="none" stroke="rgba(0,0,0,0.6)" stroke-width="1.35"/>
<circle cx="76.73" cy="498.66" r="1.75" fill="none" stroke="rgba(0,0,0,0.6)" stroke-width="1.35"/>
<circle cx="80.28" cy="499.30" r="1.75" fill="none" stroke="rgba(0,0,0,0.6)" stroke-width="1.35"/>
<circle cx="77.41" cy="498.83" r="1.75" fill="none" stroke="rgba(0,0,0,0.6)" stroke-width="1.35"/>
<circle cx="73.89" cy="499.60" r="1.75" fill="none" stroke="rgba(0,0,0,0.6)" stroke-width="1.35"/>
<circle cx="84.58" cy="499.03" r="1.75" fill="none" stroke="rgba(0,0,0,0.6)" stroke-width="1.35"/>
<circle cx="80.13" cy="499.13" r="1.75" fill="none" stroke="rgba(0,0,0,0.6)" stroke-width="1.35"/>
<circle cx="85.98" cy="498.95" r="1.75" fill="none" stroke="rgba(0,0,0,0.6)" stroke-width="1.35"/>
<circle cx="93.20" cy="499.09" r="1.75" fill="none" stroke="rgba(0,0,0,0.6)" stroke-width="1.35"/>
<circle cx="89.27" cy="499.29" r="1.75" fill="none" stroke="rgba(0,0,0,0.6)" stroke-width="1.35"/>
<circle cx="78.81" cy="499.07" r="1.75" fill="none" stroke="rgba(0,0,0,0.6)" stroke-width="1.35"/>
<circle cx="74.29" cy="499.16" r="1.75" fill="none" stroke="rgba(0,0,0,0.6)" stroke-width="1.35"/>
<circle cx="76.09" cy="498.79" r="1.75" fill="none" stroke="rgba(0,0,0,0.6)" stroke-width="1.35"/>
<circle cx="81.95" cy="499.60" r="1.75" fill="none" stroke="rgba(0,0,0,0.6)" stroke-width="1.35"/>
<circle cx="78.67" cy="498.71" r="1.75" fill="none" stroke="rgba(0,0,0,0.6)" stroke-width="1.35"/>
<circle cx="76.49" cy="499.55" r="1.75" fill="none" stroke="rgba(0,0,0,0.6)" stroke-width="1.35"/>
<circle cx="87.51" cy="498.85" r="1.75" fill="none" stroke="rgba(0,0,0,0.6)" stroke-width="1.35"/>
<circle cx="75.29" cy="499.60" r="1.75" fill="none" stroke="rgba(0,0,0,0.6)" stroke-width="1.35"/>
<circle cx="82.01" cy="499.32" r="1.75" fill="none" stroke="rgba(0,0,0,0.6)" stroke-width="1.35"/>
<circle cx="74.95" cy="499.60" r="1.75" fill="none" stroke="rgba(0,0,0,0.6)" stroke-width="1.35"/>
<circle cx="89.53" cy="498.89" r="1.75" fill="none" stroke="rgba(0,0,0,0.6)" stroke-width="1.35"/>
<circle cx="75.17" cy="499.19" r="1.75" fill="none" stroke="rgba(0,0,0,0.6)" stroke-width="1.35"/>
<circle cx="90.76" cy="498.98" r="1.75" fill="none" stroke="rgba(0,0,0,0.6)" stroke-width="1.35"/>
<circle cx="82.58" cy="498.83" r="1.75" fill="none" stroke="rgba(0,0,0,0.6)" stroke-width="1.35"/>
<circle cx="92.03" cy="499.53" r="1.75" fill="none" stroke="rgba(0,0,0,0.6)" stroke-width="1.35"/>
<circle cx="78.86" cy="499.44" r="1.75" fill="none" stroke="rgba(0,0,0,0.6)" stroke-width="1.35"/>
<circle cx="78.27" cy="499.46" r="1.75" fill="none" stroke="rgba(0,0,0,0.6)" stroke-width="1.35"/>
<circle cx="75.69" cy="499.17" r="1.75" fill="none" stroke="rgba(0,0,0,0.6)" stroke-width="1.35"/>
<circle cx="77.54" cy="499.21" r="1.75" fill="none" stroke="rgba(0,0,0,0.6)" stroke-width="1.35"/>
<circle cx="79.74" cy="498.87" r="1.75" fill="none" stroke="rgba(0,0,0,0.6)" stroke-width="1.35"/>
<circle cx="79.30" cy="499.60" r="1.75" fill="none" stroke="rgba(0,0,0,0.6)" stroke-width="1.35"/>
<circle cx="83.50" cy="499.26" r="1.75" fill="none" stroke="rgba(0,0,0,0.6)" stroke-width="1.35"/>
<circle cx="73.86" cy="499.43" r="1.75" fill="none" stroke="rgba(0,0,0,0.6)" stroke-width="1.35"/>
<circle cx="78.51" cy="499.60" r="1.75" fill="none" stroke="rgba(0,0,0,0.6)" stroke-width="1.35"/>
<circle cx="84.52" cy="499.16" r="1.75" fill="none" stroke="rgba(0,0,0,0.6)" stroke-width="1.35"/>
<circle cx="77.29" cy="498.60" r="1.75" fill="none" stroke="rgba(0,0,0,0.6)" stroke-width="1.35"/>
<circle cx="75.63" cy="499.25" r="1.75" fill="none" stroke="rgba(0,0,0,0.6)" stroke-width="1.35"/>
<circle cx="89.88" cy="498.67" r="1.75" fill="none" stroke="rgba(0,0,0,0.6)" stroke-width="1.35"/>
<circle cx="90.19" cy="499.29" r="1.75" fill="none" stroke="rgba(0,0,0,0.6)" stroke-width="1.35"/>
<circle cx="81.36" cy="498.60" r="1.75" fill="none" stroke="rgba(0,0,0,0.6)" stroke-width="1.35"/>
<circle cx="93.15" cy="499.07" r="1.75" fill="none" stroke="rgba(0,0,0,0.6)" stroke-width="1.35"/>
<circle cx="80.35" cy="499.41" r="1.75" fill="none" stroke="rgba(0,0,0,0.6)" stroke-width="1.35"/>
<circle cx="86.22" cy="498.60" r="1.75" fill="none" stroke="rgba(0,0,0,0.6)" stroke-width="1.35"/>
<circle cx="81.59" cy="499.02" r="1.75" fill="none" stroke="rgba(0,0,0,0.6)" stroke-width="1.35"/>
<circle cx="76.10" cy="499.21" r="1.75" fill="none" stroke="rgba(0,0,0,0.6)" stroke-width="1.35"/>
<circle cx="74.91" cy="499.08" r="1.75" fill="none" stroke="rgba(0,0,0,0.6)" stroke-width="1.35"/>
<circle cx="76.76" cy="498.79" r="1.75" fill="none" stroke="rgba(0,0,0,0.6)" stroke-width="1.35"/>
<circle cx="75.19" cy="499.54" r="1.75" fill="none" stroke="rgba(0,0,0,0.6)" stroke-width="1.35"/>
<circle cx="86.91" cy="498.60" r="1.75" fill="none" stroke="rgba(0,0,0,0.6)" stroke-width="1.35"/>
<circle cx="79.14" cy="499.12" r="1.75" fill="none" stroke="rgba(0,0,0,0.6)" stroke-width="1.35"/>
<circle cx="82.69" cy="499.43" r="1.75" fill="none" stroke="rgba(0,0,0,0.6)" stroke-width="1.35"/>
<circle cx="76.65" cy="498.81" r="1.75" fill="none" stroke="rgba(0,0,0,0.6)" stroke-width="1.35"/>
<circle cx="92.74" cy="499.20" r="1.75" fill="none" stroke="rgba(0,0,0,0.6)" stroke-width="1.35"/>
<circle cx="92.95" cy="498.81" r="1.75" fill="none" stroke="rgba(0,0,0,0.6)" stroke-width="1.35"/>
<circle cx="92.81" cy="499.01" r="1.75" fill="none" stroke="rgba(0,0,0,0.6)" stroke-width="1.35"/>
<circle cx="79.69" cy="499.09" r="1.75" fill="none" stroke="rgba(0,0,0,0.6)" stroke-width="1.35"/>
<circle cx="81.13" cy="499.11" r="1.75" fill="none" stroke="rgba(0,0,0,0.6)" stroke-width="1.35"/>
<circle cx="82.99" cy="498.83" r="1.75" fill="none" stroke="rgba(0,0,0,0.6)" stroke-width="1.35"/>
<circle cx="83.59" cy="499.10" r="1.75" fill="none" stroke="rgba(0,0,0,0.6)" stroke-width="1.35"/>
<circle cx="73.60" cy="499.08" r="1.75" fill="none" stroke="rgba(0,0,0,0.6)" stroke-width="1.35"/>
<circle cx="81.49" cy="499.27" r="1.75" fill="none" stroke="rgba(0,0,0,0.6)" stroke-width="1.35"/>
<circle cx="74.33" cy="499.44" r="1.75" fill="none" stroke="rgba(0,0,0,0.6)" stroke-width="1.35"/>
<circle cx="78.16" cy="499.15" r="1.75" fill="none" stroke="rgba(0,0,0,0.6)" stroke-width="1.35"/>
<circle cx="85.21" cy="498.60" r="1.75" fill="none" stroke="rgba(0,0,0,0.6)" stroke-width="1.35"/>
<circle cx="86.65" cy="498.98" r="1.75" fill="none" stroke="rgba(0,0,0,0.6)" stroke-width="1.35"/>
<circle cx="87.82" cy="499.39" r="1.75" fill="none" stroke="rgba(0,0,0,0.6)" stroke-width="1.35"/>
<circle cx="80.02" cy="498.83" r="1.75" fill="none" stroke="rgba(0,0,0,0.6)" stroke-width="1.35"/>
<circle cx="93.19" cy="499.48" r="1.75" fill="none" stroke="rgba(0,0,0,0.6)" stroke-width="1.35"/>
<circle cx="86.36" cy="499.60" r="1.75" fill="none" stroke="rgba(0,0,0,0.6)" stroke-width="1.35"/>
<circle cx="74.38" cy="499.53" r="1.75" fill="none" stroke="rgba(0,0,0,0.6)" stroke-width="1.35"/>
<circle cx="86.05" cy="498.60" r="1.75" fill="none" stroke="rgba(0,0,0,0.6)" stroke-width="1.35"/>
<circle cx="88.18" cy="499.18" r="1.75" fill="none" stroke="rgba(0,0,0,0.6)" stroke-width="1.35"/>
<circle cx="83.98" cy="498.90" r="1.75" fill="none" stroke="rgba(0,0,0,0.6)" stroke-width="1.35"/>
<circle cx="83.59" cy="499.47" r="1.75" fill="none" stroke="rgba(0,0,0,0.6)" stroke-width="1.35"/>
<circle cx="90.03" cy="498.60" r="1.75" fill="none" stroke="rgba(0,0,0,0.6)" stroke-width="1.35"/>
<circle cx="85.18" cy="499.57" r="1.75" fill="none" stroke="rgba(0,0,0,0.6)" stroke-width="1.35"/>
<circle cx="87.37" cy="498.72" r="1.75" fill="none" stroke="rgba(0,0,0,0.6)" stroke-width="1.35"/>
<circle cx="78.10" cy="499.31" r="1.75" fill="none" stroke="rgba(0,0,0,0.6)" stroke-width="1.35"/>
<circle cx="80.71" cy="499.14" r="1.75" fill="none" stroke="rgba(0,0,0,0.6)" stroke-width="1.35"/>
<circle cx="75.60" cy="499.36" r="1.75" fill="none" stroke="rgba(0,0,0,0.6)" stroke-width="1.35"/>
<circle cx="86.06" cy="498.66" r="1.75" fill="none" stroke="rgba(0,0,0,0.6)" stroke-width="1.35"/>
<circle cx="86.02" cy="498.90" r="1.75" fill="none" stroke="rgba(0,0,0,0.6)" stroke-width="1.35"/>
<circle cx="73.57" cy="498.68" r="1.75" fill="none" stroke="rgba(0,0,0,0.6)" stroke-width="1.35"/>
<circle cx="89.45" cy="499.09" r="1.75" fill="none" stroke="rgba(0,0,0,0.6)" stroke-width="1.35"/>
<circle cx="84.20" cy="498.63" r="1.75" fill="none" stroke="rgba(0,0,0,0.6)" stroke-width="1.35"/>
<circle cx="86.69" cy="499.60" r="1.75" fill="none" stroke="rgba(0,0,0,0.6)" stroke-width="1.35"/>
<circle cx="78.54" cy="499.36" r="1.75" fill="none" stroke="rgba(0,0,0,0.6)" stroke-width="1.35"/>
<circle cx="74.99" cy="499.04" r="1.75" fill="none" stroke="rgba(0,0,0,0.6)" stroke-width="1.35"/>
<circle cx="77.60" cy="499.60" r="1.75" fill="none" stroke="rgba(0,0,0,0.6)" stroke-width="1.35"/>
<circle cx="88.30" cy="499.56" r="1.75" fill="none" stroke="rgba(0,0,0,0.6)" stroke-width="1.35"/>
<circle cx="81.15" cy="499.03" r="1.75" fill="none" stroke="rgba(0,0,0,0.6)" stroke-width="1.35"/>
<circle cx="83.08" cy="498.82" r="1.75" fill="none" stroke="rgba(0,0,0,0.6)" stroke-width="1.35"/>
<circle cx="85.84" cy="498.60" r="1.75" fill="none" stroke="rgba(0,0,0,0.6)" stroke-width="1.35"/>
<circle cx="86.36" cy="499.30" r="1.75" fill="none" stroke="rgba(0,0,0,0.6)" stroke-width="1.35"/>
<circle cx="78.58" cy="499.21" r="1.75" fill="none" stroke="rgba(0,0,0,0.6)" stroke-width="1.35"/>
<circle cx="88.36" cy="498.93" r="1.75" fill="none" stroke="rgba(0,0,0,0.6)" stroke-width="1.35"/>
<circle cx="73.75" cy="499.59" r="1.75" fill="none" stroke="rgba(0,0,0,0.6)" stroke-width="1.35"/>
<circle cx="74.71" cy="499.03" r="1.75" fill="none" stroke="rgba(0,0,0,0.6)" stroke-width="1.35"/>
<circle cx="87.34" cy="499.60" r="1.75" fill="none" stroke="rgba(0,0,0,0.6)" stroke-width="1.35"/>
<circle cx="87.01" cy="498.98" r="1.75" fill="none" stroke="rgba(0,0,0,0.6)" stroke-width="1.35"/>
<circle cx="82.79" cy="499.57" r="1.75" fill="none" stroke="rgba(0,0,0,0.6)" stroke-width="1.35"/>
<circle cx="82.83" cy="499.60" r="1.75" fill="none" stroke="rgba(0,0,0,0.6)" stroke-width="1.35"/>
<circle cx="77.49" cy="499.60" r="1.75" fill="none" stroke="rgba(0,0,0,0.6)" stroke-width="1.35"/>
<circle cx="93.06" cy="499.17" r="1.75" fill="none" stroke="rgba(0,0,0,0.6)" stroke-width="1.35"/>
<circle cx="82.68" cy="499.07" r="1.75" fill="none" stroke="rgba(0,0,0,0.6)" stroke-width="1.35"/>
<circle cx="89.90" cy="499.53" r="1.75" fill="none" stroke="rgba(0,0,0,0.6)" stroke-width="1.35"/>
<circle cx="78.87" cy="499.01" r="1.75" fill="none" stroke="rgba(0,0,0,0.6)" stroke-width="1.35"/>
<circle cx="77.70" cy="499.36" r="1.75" fill="none" stroke="rgba(0,0,0,0.6)" stroke-width="1.35"/>
<circle cx="85.13" cy="499.01" r="1.75" fill="none" stroke="rgba(0,0,0,0.6)" stroke-width="1.35"/>
<circle cx="76.33" cy="498.60" r="1.75" fill="none" stroke="rgba(0,0,0,0.6)" stroke-width="1.35"/>
<circle cx="76.15" cy="498.95" r="1.75" fill="none" stroke="rgba(0,0,0,0.6)" stroke-width="1.35"/>
<circle cx="89.90" cy="498.60" r="1.75" fill="none" stroke="rgba(0,0,0,0.6)" stroke-width="1.35"/>
<circle cx="87.57" cy="499.05" r="1.75" fill="none" stroke="rgba(0,0,0,0.6)" stroke-width="1.35"/>
<circle cx="78.13" cy="499.47" r="1.75" fill="none" stroke="rgba(0,0,0,0.6)" stroke-width="1.35"/>
<circle cx="74.00" cy="498.82" r="1.75" fill="none" stroke="rgba(0,0,0,0.6)" stroke-width="1.35"/>
<circle cx="73.57" cy="498.66" r="1.75" fill="none" stroke="rgba(0,0,0,0.6)" stroke-width="1.35"/>
<circle cx="79.54" cy="499.12" r="1.75" fill="none" stroke="rgba(0,0,0,0.6)" stroke-width="1.35"/>
<circle cx="76.31" cy="498.91" r="1.75" fill="none" stroke="rgba(0,0,0,0.6)" stroke-width="1.35"/>
<circle cx="90.30" cy="499.39" r="1.75" fill="none" stroke="rgba(0,0,0,0.6)" stroke-width="1.35"/>
<circle cx="73.53" cy="499.10" r="1.75" fill="none" stroke="rgba(0,0,0,0.6)" stroke-width="1.35"/>
<circle cx="75.90" cy="498.60" r="1.75" fill="none" stroke="rgba(0,0,0,0.6)" stroke-width="1.35"/>
<circle cx="92.03" cy="498.90" r="1.75" fill="none" stroke="rgba(0,0,0,0.6)" stroke-width="1.35"/>
<circle cx="79.30" cy="498.60" r="1.75" fill="none" stroke="rgba(0,0,0,0.6)" stroke-width="1.35"/>
<circle cx="80.94" cy="498.60" r="1.75" fill="none" stroke="rgba(0,0,0,0.6)" stroke-width="1.35"/>
<circle cx="85.28" cy="499.60" r="1.75" fill="none" stroke="rgba(0,0,0,0.6)" stroke-width="1.35"/>
<circle cx="80.71" cy="498.81" r="1.75" fill="none" stroke="rgba(0,0,0,0.6)" stroke-width="1.35"/>
<circle cx="74.47" cy="499.24" r="1.75" fill="none" stroke="rgba(0,0,0,0.6)" stroke-width="1.35"/>
<circle cx="75.53" cy="499.27" r="1.75" fill="none" stroke="rgba(0,0,0,0.6)" stroke-width="1.35"/>
<circle cx="92.21" cy="498.82" r="1.75" fill="none" stroke="rgba(0,0,0,0.6)" stroke-width="1.35"/>
<circle cx="78.49" cy="499.05" r="1.75" fill="none" stroke="rgba(0,0,0,0.6)" stroke-width="1.35"/>
<circle cx="77.30" cy="499.58" r="1.75" fill="none" stroke="rgba(0,0,0,0.6)" stroke-width="1.35"/>
<circle cx="80.97" cy="499.60" r="1.75" fill="none" stroke="rgba(0,0,0,0.6)" stroke-width="1.35"/>
<circle cx="89.74" cy="498.87" r="1.75" fill="none" stroke="rgba(0,0,0,0.6)" stroke-width="1.35"/>
<circle cx="86.12" cy="499.60" r="1.75" fill="none" stroke="rgba(0,0,0,0.6)" stroke-width="1.35"/>
<circle cx="84.48" cy="498.61" r="1.75" fill="none" stroke="rgba(0,0,0,0.6)" stroke-width="1.35"/>
<circle cx="87.89" cy="499.60" r="1.75" fill="none" stroke="rgba(0,0,0,0.6)" stroke-width="1.35"/>
<circle cx="82.52" cy="499.30" r="1.75" fill="none" stroke="rgba(0,0,0,0.6)" stroke-width="1.35"/>
<circle cx="81.77" cy="497.79" r="1.75" fill="none" stroke="rgba(0,0,0,0.6)" stroke-width="1.35"/>
<circle cx="77.58" cy="496.60" r="1.75" fill="none" stroke="rgba(0,0,0,0.6)" stroke-width="1.35"/>
<circle cx="83.34" cy="496.75" r="1.75" fill="none" stroke="rgba(0,0,0,0.6)" stroke-width="1.35"/>
<circle cx="79.25" cy="497.19" r="1.75" fill="none" stroke="rgba(0,0,0,0.6)" stroke-width="1.35"/>
<circle cx="77.68" cy="497.98" r="1.75" fill="none" stroke="rgba(0,0,0,0.6)" stroke-width="1.35"/>
<circle cx="83.79" cy="497.02" r="1.75" fill="none" stroke="rgba(0,0,0,0.6)" stroke-width="1.35"/>
<circle cx="80.90" cy="497.10" r="1.75" fill="none" stroke="rgba(0,0,0,0.6)" stroke-width="1.35"/>
<circle cx="80.02" cy="497.29" r="1.75" fill="none" stroke="rgba(0,0,0,0.6)" stroke-width="1.35"/>
<circle cx="76.51" cy="496.82" r="1.75" fill="none" stroke="rgba(0,0,0,0.6)" stroke-width="1.35"/>
<circle cx="76.87" cy="498.31" r="1.75" fill="none" stroke="rgba(0,0,0,0.6)" stroke-width="1.35"/>
<circle cx="79.47" cy="496.94" r="1.75" fill="none" stroke="rgba(0,0,0,0.6)" stroke-width="1.35"/>
<circle cx="83.16" cy="498.49" r="1.75" fill="none" stroke="rgba(0,0,0,0.6)" stroke-width="1.35"/>
<circle cx="79.05" cy="496.78" r="1.75" fill="none" stroke="rgba(0,0,0,0.6)" stroke-width="1.35"/>
<circle cx="76.73" cy="496.68" r="1.75" fill="none" stroke="rgba(0,0,0,0.6)" stroke-width="1.35"/>
<circle cx="71.50" cy="499.20" r="1.75" fill="none" stroke="rgba(0,0,0,0.7)" stroke-width="1.35"/>
<circle cx="95.20" cy="499.50" r="1.75" fill="none" stroke="rgba(0,0,0,0.7)" stroke-width="1.35"/>
<circle cx="98.60" cy="496.90" r="1.75" fill="none" stroke="rgba(0,0,0,0.7)" stroke-width="1.35"/>
<text x="231.50" y="18.60" font-size="24.5" text-anchor="start" stroke="#fff" stroke-width="0.35">b</text>
<path d="M312.50,43.30 L316.50,43.30 C316.70,43.92 317.20,45.62 317.70,47.00 C318.20,48.38 318.43,49.45 319.50,51.60 C320.57,53.75 322.35,56.83 324.10,59.90 C325.85,62.97 328.35,67.15 330.00,70.00 C331.65,72.85 333.00,74.75 334.00,77.00 C335.00,79.25 335.75,81.33 336.00,83.50 C336.25,85.67 336.17,87.58 335.50,90.00 C334.83,92.42 333.42,94.73 332.00,98.00 C330.58,101.27 328.62,105.93 327.00,109.60 C325.38,113.27 323.38,116.93 322.30,120.00 C321.22,123.07 320.97,125.47 320.50,128.00 C320.03,130.53 319.92,132.37 319.50,135.20 C319.08,138.03 318.47,141.80 318.00,145.00 C317.53,148.20 317.07,150.57 316.70,154.40 C316.33,158.23 316.02,163.73 315.80,168.00 C315.58,172.27 315.50,175.50 315.40,180.00 C315.30,184.50 315.25,190.83 315.20,195.00 C315.15,199.17 315.12,203.33 315.10,205.00 L313.90,205.00 C313.88,203.33 313.85,199.17 313.80,195.00 C313.75,190.83 313.70,184.50 313.60,180.00 C313.50,175.50 313.42,172.27 313.20,168.00 C312.98,163.73 312.67,158.23 312.30,154.40 C311.93,150.57 311.47,148.20 311.00,145.00 C310.53,141.80 309.92,138.03 309.50,135.20 C309.08,132.37 308.97,130.53 308.50,128.00 C308.03,125.47 307.78,123.07 306.70,120.00 C305.62,116.93 303.62,113.27 302.00,109.60 C300.38,105.93 298.42,101.27 297.00,98.00 C295.58,94.73 294.17,92.42 293.50,90.00 C292.83,87.58 292.75,85.67 293.00,83.50 C293.25,81.33 294.00,79.25 295.00,77.00 C296.00,74.75 297.35,72.85 299.00,70.00 C300.65,67.15 303.15,62.97 304.90,59.90 C306.65,56.83 308.43,53.75 309.50,51.60 C310.57,49.45 310.80,48.38 311.30,47.00 C311.80,45.62 312.30,43.92 312.50,43.30 Z" fill="#808080" stroke="#000" stroke-width="1.05"/>
<line x1="314.50" y1="43.30" x2="314.50" y2="205.00" stroke="#000" stroke-width="1.05"/>
<rect x="312.50" y="77.00" width="4.0" height="31.30" fill="#000"/>
<circle cx="314.50" cy="89.20" r="2.0" fill="#fff"/>
<path d="M367.60,54.60 L369.40,54.60 C369.43,55.83 369.52,58.60 369.60,62.00 C369.68,65.40 369.77,70.02 369.90,75.00 C370.02,79.98 370.08,87.23 370.35,91.90 C370.62,96.57 371.02,99.77 371.50,103.00 C371.98,106.23 372.57,108.13 373.20,111.30 C373.83,114.47 374.65,119.22 375.30,122.00 C375.95,124.78 376.40,125.90 377.10,128.00 C377.80,130.10 378.30,131.77 379.50,134.60 C380.70,137.43 382.80,141.60 384.30,145.00 C385.80,148.40 387.47,151.40 388.50,155.00 C389.53,158.60 390.63,162.48 390.50,166.60 C390.37,170.72 388.95,175.80 387.70,179.70 C386.45,183.60 384.68,186.28 383.00,190.00 C381.32,193.72 379.15,198.17 377.60,202.00 C376.05,205.83 374.58,210.17 373.70,213.00 C372.82,215.83 372.61,217.38 372.30,219.00 C371.99,220.62 371.93,222.08 371.85,222.70 L365.15,222.70 C365.07,222.08 365.01,220.62 364.70,219.00 C364.39,217.38 364.18,215.83 363.30,213.00 C362.42,210.17 360.95,205.83 359.40,202.00 C357.85,198.17 355.68,193.72 354.00,190.00 C352.32,186.28 350.55,183.60 349.30,179.70 C348.05,175.80 346.63,170.72 346.50,166.60 C346.37,162.48 347.47,158.60 348.50,155.00 C349.53,151.40 351.20,148.40 352.70,145.00 C354.20,141.60 356.30,137.43 357.50,134.60 C358.70,131.77 359.20,130.10 359.90,128.00 C360.60,125.90 361.05,124.78 361.70,122.00 C362.35,119.22 363.17,114.47 363.80,111.30 C364.43,108.13 365.02,106.23 365.50,103.00 C365.98,99.77 366.38,96.57 366.65,91.90 C366.92,87.23 366.98,79.98 367.10,75.00 C367.23,70.02 367.32,65.40 367.40,62.00 C367.48,58.60 367.57,55.83 367.60,54.60 Z" fill="#808080" stroke="#000" stroke-width="1.05"/>
<line x1="368.50" y1="122.00" x2="368.50" y2="211.60" stroke="#000" stroke-width="1.05"/>
<rect x="366.50" y="155.00" width="4.0" height="23.70" fill="#000"/>
<circle cx="368.50" cy="166.80" r="2.0" fill="#fff"/>
<path d="M420.90,90.00 L422.10,90.00 C422.13,91.67 422.22,96.67 422.30,100.00 C422.38,103.33 422.50,107.50 422.60,110.00 C422.70,112.50 422.70,113.33 422.90,115.00 C423.10,116.67 423.48,118.42 423.80,120.00 C424.12,121.58 424.42,122.83 424.80,124.50 C425.18,126.17 425.60,128.22 426.10,130.00 C426.60,131.78 426.90,133.20 427.80,135.20 C428.70,137.20 430.08,139.60 431.50,142.00 C432.92,144.40 434.80,147.10 436.30,149.60 C437.80,152.10 439.40,154.32 440.50,157.00 C441.60,159.68 442.90,162.70 442.90,165.70 C442.90,168.70 441.37,172.62 440.50,175.00 C439.63,177.38 439.12,177.50 437.70,180.00 C436.28,182.50 433.70,186.67 432.00,190.00 C430.30,193.33 428.61,196.90 427.50,200.00 C426.39,203.10 426.05,205.93 425.35,208.60 C424.65,211.27 423.79,213.93 423.30,216.00 C422.81,218.07 422.62,219.62 422.40,221.00 C422.18,222.38 422.07,223.75 422.00,224.30 L421.00,224.30 C420.93,223.75 420.82,222.38 420.60,221.00 C420.38,219.62 420.19,218.07 419.70,216.00 C419.21,213.93 418.35,211.27 417.65,208.60 C416.95,205.93 416.61,203.10 415.50,200.00 C414.39,196.90 412.70,193.33 411.00,190.00 C409.30,186.67 406.72,182.50 405.30,180.00 C403.88,177.50 403.37,177.38 402.50,175.00 C401.63,172.62 400.10,168.70 400.10,165.70 C400.10,162.70 401.40,159.68 402.50,157.00 C403.60,154.32 405.20,152.10 406.70,149.60 C408.20,147.10 410.08,144.40 411.50,142.00 C412.92,139.60 414.30,137.20 415.20,135.20 C416.10,133.20 416.40,131.78 416.90,130.00 C417.40,128.22 417.82,126.17 418.20,124.50 C418.58,122.83 418.88,121.58 419.20,120.00 C419.52,118.42 419.90,116.67 420.10,115.00 C420.30,113.33 420.30,112.50 420.40,110.00 C420.50,107.50 420.62,103.33 420.70,100.00 C420.78,96.67 420.87,91.67 420.90,90.00 Z" fill="#808080" stroke="#000" stroke-width="1.05"/>
<line x1="421.50" y1="131.00" x2="421.50" y2="207.00" stroke="#000" stroke-width="1.05"/>
<rect x="419.50" y="158.60" width="4.0" height="20.00" fill="#000"/>
<circle cx="421.50" cy="168.60" r="2.0" fill="#fff"/>
<line x1="285.80" y1="47.90" x2="453.00" y2="47.90" stroke="#c8c8c8" stroke-width="1" stroke-dasharray="2.2 2.75" fill="none"/>
<line x1="285.80" y1="91.72" x2="453.00" y2="91.72" stroke="#c8c8c8" stroke-width="1" stroke-dasharray="2.2 2.75" fill="none"/>
<line x1="285.80" y1="135.54" x2="453.00" y2="135.54" stroke="#c8c8c8" stroke-width="1" stroke-dasharray="2.2 2.75" fill="none"/>
<line x1="285.80" y1="179.36" x2="453.00" y2="179.36" stroke="#c8c8c8" stroke-width="1" stroke-dasharray="2.2 2.75" fill="none"/>
<line x1="285.80" y1="223.18" x2="453.00" y2="223.18" stroke="#c8c8c8" stroke-width="1" stroke-dasharray="2.2 2.75" fill="none"/>
<line x1="281.70" y1="47.90" x2="281.70" y2="223.18" stroke="#000" stroke-width="1.1" fill="none" stroke-linecap="square"/>
<line x1="277.50" y1="47.90" x2="281.70" y2="47.90" stroke="#000" stroke-width="1.1" fill="none"/>
<text x="273.80" y="53.15" font-size="12.5" text-anchor="end" >16</text>
<line x1="277.50" y1="91.72" x2="281.70" y2="91.72" stroke="#000" stroke-width="1.1" fill="none"/>
<text x="273.80" y="96.97" font-size="12.5" text-anchor="end" >15</text>
<line x1="277.50" y1="135.54" x2="281.70" y2="135.54" stroke="#000" stroke-width="1.1" fill="none"/>
<text x="273.80" y="140.79" font-size="12.5" text-anchor="end" >14</text>
<line x1="277.50" y1="179.36" x2="281.70" y2="179.36" stroke="#000" stroke-width="1.1" fill="none"/>
<text x="273.80" y="184.61" font-size="12.5" text-anchor="end" >13</text>
<line x1="277.50" y1="223.18" x2="281.70" y2="223.18" stroke="#000" stroke-width="1.1" fill="none"/>
<text x="273.80" y="228.43" font-size="12.5" text-anchor="end" >12</text>
<line x1="314.50" y1="231.70" x2="421.50" y2="231.70" stroke="#000" stroke-width="1.1" fill="none" stroke-linecap="square"/>
<line x1="314.50" y1="231.70" x2="314.50" y2="235.70" stroke="#000" stroke-width="1.1" fill="none"/>
<text x="314.50" y="249.80" font-size="12.6" text-anchor="middle" >HCU</text>
<line x1="368.50" y1="231.70" x2="368.50" y2="235.70" stroke="#000" stroke-width="1.1" fill="none"/>
<text x="368.50" y="249.80" font-size="12.6" text-anchor="middle" >Women</text>
<line x1="421.50" y1="231.70" x2="421.50" y2="235.70" stroke="#000" stroke-width="1.1" fill="none"/>
<text x="421.50" y="249.80" font-size="12.6" text-anchor="middle" >Men</text>
<g transform="translate(253.70,180.50) rotate(-90)">
<text x="0.00" y="0.00" font-size="12.8">log</text>
<text x="16.10" y="1.90" font-size="9.3">2</text>
<text x="29.20" y="0.00" font-size="12.6">abundance</text>
</g>
<text x="230.50" y="288.30" font-size="24.5" text-anchor="start" stroke="#fff" stroke-width="0.35">e</text>
<path d="M303.40,320.10 L325.60,320.10 C326.00,320.92 327.23,323.32 328.00,325.00 C328.77,326.68 329.20,327.70 330.20,330.20 C331.20,332.70 333.02,336.62 334.00,340.00 C334.98,343.38 335.88,347.17 336.10,350.50 C336.32,353.83 335.87,356.63 335.30,360.00 C334.73,363.37 333.58,367.37 332.70,370.70 C331.82,374.03 330.93,376.63 330.00,380.00 C329.07,383.37 327.93,387.57 327.10,390.90 C326.27,394.23 325.75,396.62 325.00,400.00 C324.25,403.38 323.08,406.77 322.60,411.20 C322.12,415.63 322.39,420.85 322.10,426.60 C321.81,432.35 321.22,440.17 320.85,445.70 C320.48,451.23 320.17,456.42 319.90,459.80 C319.62,463.18 319.45,464.30 319.20,466.00 C318.95,467.70 318.53,469.33 318.40,470.00 L310.60,470.00 C310.47,469.33 310.05,467.70 309.80,466.00 C309.55,464.30 309.38,463.18 309.10,459.80 C308.83,456.42 308.52,451.23 308.15,445.70 C307.78,440.17 307.19,432.35 306.90,426.60 C306.61,420.85 306.88,415.63 306.40,411.20 C305.92,406.77 304.75,403.38 304.00,400.00 C303.25,396.62 302.73,394.23 301.90,390.90 C301.07,387.57 299.93,383.37 299.00,380.00 C298.07,376.63 297.18,374.03 296.30,370.70 C295.42,367.37 294.27,363.37 293.70,360.00 C293.13,356.63 292.68,353.83 292.90,350.50 C293.12,347.17 294.02,343.38 295.00,340.00 C295.98,336.62 297.80,332.70 298.80,330.20 C299.80,327.70 300.23,326.68 301.00,325.00 C301.77,323.32 303.00,320.92 303.40,320.10 Z" fill="#808080" stroke="#000" stroke-width="1.05"/>
<line x1="314.50" y1="320.10" x2="314.50" y2="469.70" stroke="#000" stroke-width="1.05"/>
<rect x="312.50" y="344.00" width="4.0" height="51.40" fill="#000"/>
<circle cx="314.50" cy="364.70" r="2.0" fill="#fff"/>
<path d="M367.10,315.10 L368.70,315.10 C368.78,317.58 369.03,324.18 369.20,330.00 C369.37,335.82 369.50,344.67 369.70,350.00 C369.90,355.33 370.20,357.70 370.40,362.00 C370.60,366.30 370.95,371.47 370.90,375.80 C370.85,380.13 370.35,384.18 370.10,388.00 C369.85,391.82 369.38,395.53 369.40,398.70 C369.42,401.87 369.85,404.30 370.20,407.00 C370.55,409.70 370.92,412.57 371.50,414.90 C372.08,417.23 372.75,418.88 373.70,421.00 C374.65,423.12 375.62,424.97 377.20,427.60 C378.78,430.23 381.48,433.90 383.20,436.80 C384.92,439.70 386.45,442.23 387.50,445.00 C388.55,447.77 389.60,450.40 389.50,453.40 C389.40,456.40 388.35,459.63 386.90,463.00 C385.45,466.37 382.89,469.98 380.80,473.60 C378.71,477.22 375.73,481.78 374.35,484.70 C372.97,487.62 372.81,490.03 372.50,491.10 L363.30,491.10 C362.99,490.03 362.83,487.62 361.45,484.70 C360.07,481.78 357.09,477.22 355.00,473.60 C352.91,469.98 350.35,466.37 348.90,463.00 C347.45,459.63 346.40,456.40 346.30,453.40 C346.20,450.40 347.25,447.77 348.30,445.00 C349.35,442.23 350.88,439.70 352.60,436.80 C354.32,433.90 357.02,430.23 358.60,427.60 C360.18,424.97 361.15,423.12 362.10,421.00 C363.05,418.88 363.72,417.23 364.30,414.90 C364.88,412.57 365.25,409.70 365.60,407.00 C365.95,404.30 366.38,401.87 366.40,398.70 C366.42,395.53 365.95,391.82 365.70,388.00 C365.45,384.18 364.95,380.13 364.90,375.80 C364.85,371.47 365.20,366.30 365.40,362.00 C365.60,357.70 365.90,355.33 366.10,350.00 C366.30,344.67 366.43,335.82 366.60,330.00 C366.77,324.18 367.02,317.58 367.10,315.10 Z" fill="#808080" stroke="#000" stroke-width="1.05"/>
<line x1="367.90" y1="404.60" x2="367.90" y2="490.00" stroke="#000" stroke-width="1.05"/>
<rect x="365.90" y="439.60" width="4.0" height="24.80" fill="#000"/>
<circle cx="367.90" cy="453.00" r="2.0" fill="#fff"/>
<path d="M420.90,325.20 L422.10,325.20 C422.10,329.33 422.08,340.87 422.10,350.00 C422.12,359.13 422.18,371.67 422.20,380.00 C422.22,388.33 422.18,394.67 422.20,400.00 C422.22,405.33 422.22,409.33 422.30,412.00 C422.38,414.67 422.52,414.27 422.70,416.00 C422.88,417.73 422.83,420.08 423.40,422.40 C423.97,424.72 424.65,427.28 426.10,429.90 C427.55,432.52 430.45,435.62 432.10,438.10 C433.75,440.58 434.47,441.98 436.00,444.80 C437.53,447.62 440.10,451.88 441.30,455.00 C442.50,458.12 443.08,461.00 443.20,463.50 C443.32,466.00 443.02,467.70 442.00,470.00 C440.98,472.30 438.85,475.13 437.10,477.30 C435.35,479.47 433.18,481.17 431.50,483.00 C429.82,484.83 428.25,486.63 427.00,488.30 C425.75,489.97 424.72,491.62 424.00,493.00 C423.28,494.38 422.92,496.00 422.70,496.60 L420.30,496.60 C420.08,496.00 419.72,494.38 419.00,493.00 C418.28,491.62 417.25,489.97 416.00,488.30 C414.75,486.63 413.18,484.83 411.50,483.00 C409.82,481.17 407.65,479.47 405.90,477.30 C404.15,475.13 402.02,472.30 401.00,470.00 C399.98,467.70 399.68,466.00 399.80,463.50 C399.92,461.00 400.50,458.12 401.70,455.00 C402.90,451.88 405.47,447.62 407.00,444.80 C408.53,441.98 409.25,440.58 410.90,438.10 C412.55,435.62 415.45,432.52 416.90,429.90 C418.35,427.28 419.03,424.72 419.60,422.40 C420.17,420.08 420.12,417.73 420.30,416.00 C420.48,414.27 420.62,414.67 420.70,412.00 C420.78,409.33 420.78,405.33 420.80,400.00 C420.82,394.67 420.78,388.33 420.80,380.00 C420.82,371.67 420.88,359.13 420.90,350.00 C420.92,340.87 420.90,329.33 420.90,325.20 Z" fill="#808080" stroke="#000" stroke-width="1.05"/>
<line x1="421.50" y1="325.20" x2="421.50" y2="496.00" stroke="#000" stroke-width="1.05"/>
<rect x="419.50" y="449.30" width="4.0" height="22.90" fill="#000"/>
<circle cx="421.50" cy="462.60" r="2.0" fill="#fff"/>
<line x1="285.50" y1="324.75" x2="452.80" y2="324.75" stroke="#c8c8c8" stroke-width="1" stroke-dasharray="2.2 2.75" fill="none"/>
<line x1="285.50" y1="354.90" x2="452.80" y2="354.90" stroke="#c8c8c8" stroke-width="1" stroke-dasharray="2.2 2.75" fill="none"/>
<line x1="285.50" y1="385.05" x2="452.80" y2="385.05" stroke="#c8c8c8" stroke-width="1" stroke-dasharray="2.2 2.75" fill="none"/>
<line x1="285.50" y1="415.20" x2="452.80" y2="415.20" stroke="#c8c8c8" stroke-width="1" stroke-dasharray="2.2 2.75" fill="none"/>
<line x1="285.50" y1="445.35" x2="452.80" y2="445.35" stroke="#c8c8c8" stroke-width="1" stroke-dasharray="2.2 2.75" fill="none"/>
<line x1="285.50" y1="475.50" x2="452.80" y2="475.50" stroke="#c8c8c8" stroke-width="1" stroke-dasharray="2.2 2.75" fill="none"/>
<line x1="281.20" y1="324.75" x2="281.20" y2="475.50" stroke="#000" stroke-width="1.1" fill="none" stroke-linecap="square"/>
<line x1="277.00" y1="324.75" x2="281.20" y2="324.75" stroke="#000" stroke-width="1.1" fill="none"/>
<text x="274.70" y="329.25" font-size="12.5" text-anchor="end" >16.5</text>
<line x1="277.00" y1="354.90" x2="281.20" y2="354.90" stroke="#000" stroke-width="1.1" fill="none"/>
<text x="274.70" y="359.40" font-size="12.5" text-anchor="end" >16</text>
<line x1="277.00" y1="385.05" x2="281.20" y2="385.05" stroke="#000" stroke-width="1.1" fill="none"/>
<text x="274.70" y="389.55" font-size="12.5" text-anchor="end" >15.5</text>
<line x1="277.00" y1="415.20" x2="281.20" y2="415.20" stroke="#000" stroke-width="1.1" fill="none"/>
<text x="274.70" y="419.70" font-size="12.5" text-anchor="end" >15</text>
<line x1="277.00" y1="445.35" x2="281.20" y2="445.35" stroke="#000" stroke-width="1.1" fill="none"/>
<text x="274.70" y="449.85" font-size="12.5" text-anchor="end" >14.5</text>
<line x1="277.00" y1="475.50" x2="281.20" y2="475.50" stroke="#000" stroke-width="1.1" fill="none"/>
<text x="274.70" y="480.00" font-size="12.5" text-anchor="end" >14</text>
<line x1="314.50" y1="503.70" x2="421.50" y2="503.70" stroke="#000" stroke-width="1.1" fill="none" stroke-linecap="square"/>
<line x1="314.50" y1="503.70" x2="314.50" y2="507.30" stroke="#000" stroke-width="1.1" fill="none"/>
<text x="314.50" y="520.30" font-size="12.6" text-anchor="middle" >HCU</text>
<line x1="367.90" y1="503.70" x2="367.90" y2="507.30" stroke="#000" stroke-width="1.1" fill="none"/>
<text x="367.90" y="520.30" font-size="12.6" text-anchor="middle" >Women</text>
<line x1="421.50" y1="503.70" x2="421.50" y2="507.30" stroke="#000" stroke-width="1.1" fill="none"/>
<text x="421.50" y="520.30" font-size="12.6" text-anchor="middle" >Men</text>
<g transform="translate(243.70,450.20) rotate(-90)">
<text x="0.00" y="0.00" font-size="12.8">log</text>
<text x="16.20" y="2.60" font-size="9.2">2</text>
<text x="23.10" y="0.00" font-size="13.0">abundance</text>
</g>
<text x="463.20" y="18.80" font-size="24.5" text-anchor="start" stroke="#fff" stroke-width="0.35">c</text>
<line x1="512.50" y1="36.30" x2="512.50" y2="232.00" stroke="#c4c4c4" stroke-width="1" stroke-dasharray="2.2 2.75" fill="none"/>
<line x1="544.50" y1="36.30" x2="544.50" y2="232.00" stroke="#c4c4c4" stroke-width="1" stroke-dasharray="2.2 2.75" fill="none"/>
<line x1="576.50" y1="36.30" x2="576.50" y2="232.00" stroke="#c4c4c4" stroke-width="1" stroke-dasharray="2.2 2.75" fill="none"/>
<line x1="608.50" y1="36.30" x2="608.50" y2="232.00" stroke="#c4c4c4" stroke-width="1" stroke-dasharray="2.2 2.75" fill="none"/>
<line x1="640.50" y1="36.30" x2="640.50" y2="232.00" stroke="#c4c4c4" stroke-width="1" stroke-dasharray="2.2 2.75" fill="none"/>
<line x1="672.50" y1="36.30" x2="672.50" y2="232.00" stroke="#c4c4c4" stroke-width="1" stroke-dasharray="2.2 2.75" fill="none"/>
<line x1="506.30" y1="43.40" x2="678.50" y2="43.40" stroke="#c4c4c4" stroke-width="1" stroke-dasharray="2.2 2.75" fill="none"/>
<line x1="506.30" y1="79.70" x2="678.50" y2="79.70" stroke="#c4c4c4" stroke-width="1" stroke-dasharray="2.2 2.75" fill="none"/>
<line x1="506.30" y1="116.00" x2="678.50" y2="116.00" stroke="#c4c4c4" stroke-width="1" stroke-dasharray="2.2 2.75" fill="none"/>
<line x1="506.30" y1="152.30" x2="678.50" y2="152.30" stroke="#c4c4c4" stroke-width="1" stroke-dasharray="2.2 2.75" fill="none"/>
<line x1="506.30" y1="188.60" x2="678.50" y2="188.60" stroke="#c4c4c4" stroke-width="1" stroke-dasharray="2.2 2.75" fill="none"/>
<line x1="506.30" y1="224.90" x2="678.50" y2="224.90" stroke="#c4c4c4" stroke-width="1" stroke-dasharray="2.2 2.75" fill="none"/>
<line x1="506.1" y1="232.2" x2="678.9" y2="36.1" stroke="#b4b4b4" stroke-width="1.1" stroke-dasharray="2.2 2.75"/>
<path d="M512.40,224.60 L512.20,222.20 L512.70,215.60 L513.30,211.10 L514.90,205.60 L516.40,200.10 L517.10,191.30 L518.20,184.60 L518.30,178.00 L518.20,175.10 L518.90,168.70 L519.80,162.20 L521.60,158.50 L523.00,152.10 L523.90,144.70 L524.90,140.10 L525.80,136.90 L526.90,134.60 L526.60,130.00 L526.60,124.60 L528.00,120.00 L529.40,114.50 L531.20,108.90 L532.60,104.30 L534.90,99.70 L535.40,93.30 L535.50,89.70 L535.80,81.40 L536.10,75.90 L538.00,72.70 L539.30,68.50 L539.80,65.30 L541.60,63.50 L544.10,62.60 L544.10,59.30 L546.20,58.00 L546.20,55.20 L549.50,53.40 L551.80,51.50 L556.80,50.90 L561.40,49.90 L565.10,49.20 L570.00,47.80 L575.00,47.30 L600.00,47.10 L649.00,47.10 L651.00,45.90 L669.20,45.70 L672.50,43.40" fill="none" stroke="#000" stroke-width="2.5" stroke-linejoin="round"/>
<line x1="505.80" y1="43.40" x2="505.80" y2="224.90" stroke="#222" stroke-width="1.2" fill="none" stroke-linecap="square"/>
<line x1="501.60" y1="43.40" x2="505.80" y2="43.40" stroke="#222" stroke-width="1.2" fill="none"/>
<text x="498.80" y="47.90" font-size="12.5" text-anchor="end" >1.0</text>
<line x1="501.60" y1="79.70" x2="505.80" y2="79.70" stroke="#222" stroke-width="1.2" fill="none"/>
<text x="498.80" y="84.20" font-size="12.5" text-anchor="end" >0.8</text>
<line x1="501.60" y1="116.00" x2="505.80" y2="116.00" stroke="#222" stroke-width="1.2" fill="none"/>
<text x="498.80" y="120.50" font-size="12.5" text-anchor="end" >0.6</text>
<line x1="501.60" y1="152.30" x2="505.80" y2="152.30" stroke="#222" stroke-width="1.2" fill="none"/>
<text x="498.80" y="156.80" font-size="12.5" text-anchor="end" >0.4</text>
<line x1="501.60" y1="188.60" x2="505.80" y2="188.60" stroke="#222" stroke-width="1.2" fill="none"/>
<text x="498.80" y="193.10" font-size="12.5" text-anchor="end" >0.2</text>
<line x1="501.60" y1="224.90" x2="505.80" y2="224.90" stroke="#222" stroke-width="1.2" fill="none"/>
<text x="498.80" y="229.40" font-size="12.5" text-anchor="end" >0.0</text>
<line x1="512.50" y1="232.40" x2="672.50" y2="232.40" stroke="#222" stroke-width="1.2" fill="none" stroke-linecap="square"/>
<line x1="512.50" y1="232.40" x2="512.50" y2="235.40" stroke="#222" stroke-width="1.2" fill="none"/>
<text x="512.50" y="245.80" font-size="12.5" text-anchor="middle" >0.0</text>
<line x1="544.50" y1="232.40" x2="544.50" y2="235.40" stroke="#222" stroke-width="1.2" fill="none"/>
<text x="544.50" y="245.80" font-size="12.5" text-anchor="middle" >0.2</text>
<line x1="576.50" y1="232.40" x2="576.50" y2="235.40" stroke="#222" stroke-width="1.2" fill="none"/>
<text x="576.50" y="245.80" font-size="12.5" text-anchor="middle" >0.4</text>
<line x1="608.50" y1="232.40" x2="608.50" y2="235.40" stroke="#222" stroke-width="1.2" fill="none"/>
<text x="608.50" y="245.80" font-size="12.5" text-anchor="middle" >0.6</text>
<line x1="640.50" y1="232.40" x2="640.50" y2="235.40" stroke="#222" stroke-width="1.2" fill="none"/>
<text x="640.50" y="245.80" font-size="12.5" text-anchor="middle" >0.8</text>
<line x1="672.50" y1="232.40" x2="672.50" y2="235.40" stroke="#222" stroke-width="1.2" fill="none"/>
<text x="672.50" y="245.80" font-size="12.5" text-anchor="middle" >1.0</text>
<text x="673.40" y="221.50" font-size="13.0" text-anchor="end" >AUC AGT = 0.89</text>
<text x="592.80" y="261.70" font-size="12.85" text-anchor="middle" >1 - Specificity</text>
<text transform="translate(473.4,134.1) rotate(-90)" font-size="13.1" text-anchor="middle">Sensitivity</text>
<text x="461.80" y="287.70" font-size="24.5" text-anchor="start" stroke="#fff" stroke-width="0.35">f</text>
<line x1="524.05" y1="311.30" x2="524.05" y2="506.00" stroke="#c4c4c4" stroke-width="1" stroke-dasharray="2.2 2.75" fill="none"/>
<line x1="554.17" y1="311.30" x2="554.17" y2="506.00" stroke="#c4c4c4" stroke-width="1" stroke-dasharray="2.2 2.75" fill="none"/>
<line x1="584.30" y1="311.30" x2="584.30" y2="506.00" stroke="#c4c4c4" stroke-width="1" stroke-dasharray="2.2 2.75" fill="none"/>
<line x1="614.42" y1="311.30" x2="614.42" y2="506.00" stroke="#c4c4c4" stroke-width="1" stroke-dasharray="2.2 2.75" fill="none"/>
<line x1="644.55" y1="311.30" x2="644.55" y2="506.00" stroke="#c4c4c4" stroke-width="1" stroke-dasharray="2.2 2.75" fill="none"/>
<line x1="674.67" y1="311.30" x2="674.67" y2="506.00" stroke="#c4c4c4" stroke-width="1" stroke-dasharray="2.2 2.75" fill="none"/>
<line x1="506.00" y1="315.75" x2="677.00" y2="315.75" stroke="#c4c4c4" stroke-width="1" stroke-dasharray="2.2 2.75" fill="none"/>
<line x1="506.00" y1="349.80" x2="677.00" y2="349.80" stroke="#c4c4c4" stroke-width="1" stroke-dasharray="2.2 2.75" fill="none"/>
<line x1="506.00" y1="383.85" x2="677.00" y2="383.85" stroke="#c4c4c4" stroke-width="1" stroke-dasharray="2.2 2.75" fill="none"/>
<line x1="506.00" y1="417.90" x2="677.00" y2="417.90" stroke="#c4c4c4" stroke-width="1" stroke-dasharray="2.2 2.75" fill="none"/>
<line x1="506.00" y1="451.95" x2="677.00" y2="451.95" stroke="#c4c4c4" stroke-width="1" stroke-dasharray="2.2 2.75" fill="none"/>
<line x1="506.00" y1="486.00" x2="677.00" y2="486.00" stroke="#c4c4c4" stroke-width="1" stroke-dasharray="2.2 2.75" fill="none"/>
<circle cx="654.60" cy="318.40" r="2.35" fill="rgba(0,0,0,0.2)" stroke="rgba(0,0,0,0.62)" stroke-width="1.05"/>
<circle cx="667.90" cy="321.50" r="2.35" fill="rgba(0,0,0,0.2)" stroke="rgba(0,0,0,0.62)" stroke-width="1.05"/>
<circle cx="652.20" cy="325.20" r="2.35" fill="rgba(0,0,0,0.2)" stroke="rgba(0,0,0,0.62)" stroke-width="1.05"/>
<circle cx="662.70" cy="328.20" r="2.35" fill="rgba(0,0,0,0.2)" stroke="rgba(0,0,0,0.62)" stroke-width="1.05"/>
<circle cx="630.50" cy="329.80" r="2.35" fill="rgba(0,0,0,0.2)" stroke="rgba(0,0,0,0.62)" stroke-width="1.05"/>
<circle cx="642.50" cy="336.30" r="2.35" fill="rgba(0,0,0,0.2)" stroke="rgba(0,0,0,0.62)" stroke-width="1.05"/>
<circle cx="651.30" cy="337.40" r="2.35" fill="rgba(0,0,0,0.2)" stroke="rgba(0,0,0,0.62)" stroke-width="1.05"/>
<circle cx="654.40" cy="343.60" r="2.35" fill="rgba(0,0,0,0.2)" stroke="rgba(0,0,0,0.62)" stroke-width="1.05"/>
<circle cx="647.20" cy="350.30" r="2.35" fill="rgba(0,0,0,0.2)" stroke="rgba(0,0,0,0.62)" stroke-width="1.05"/>
<circle cx="619.75" cy="354.30" r="2.35" fill="rgba(0,0,0,0.2)" stroke="rgba(0,0,0,0.62)" stroke-width="1.05"/>
<circle cx="604.30" cy="364.37" r="2.35" fill="rgba(0,0,0,0.2)" stroke="rgba(0,0,0,0.62)" stroke-width="1.05"/>
<circle cx="611.33" cy="365.47" r="2.35" fill="rgba(0,0,0,0.2)" stroke="rgba(0,0,0,0.62)" stroke-width="1.05"/>
<circle cx="610.43" cy="368.50" r="2.35" fill="rgba(0,0,0,0.2)" stroke="rgba(0,0,0,0.62)" stroke-width="1.05"/>
<circle cx="620.03" cy="367.43" r="2.35" fill="rgba(0,0,0,0.2)" stroke="rgba(0,0,0,0.62)" stroke-width="1.05"/>
<circle cx="631.15" cy="362.60" r="2.35" fill="rgba(0,0,0,0.2)" stroke="rgba(0,0,0,0.62)" stroke-width="1.05"/>
<circle cx="629.25" cy="366.25" r="2.35" fill="rgba(0,0,0,0.2)" stroke="rgba(0,0,0,0.62)" stroke-width="1.05"/>
<circle cx="607.10" cy="372.93" r="2.35" fill="rgba(0,0,0,0.2)" stroke="rgba(0,0,0,0.62)" stroke-width="1.05"/>
<circle cx="612.83" cy="372.80" r="2.35" fill="rgba(0,0,0,0.2)" stroke="rgba(0,0,0,0.62)" stroke-width="1.05"/>
<circle cx="633.80" cy="372.50" r="2.35" fill="rgba(0,0,0,0.2)" stroke="rgba(0,0,0,0.62)" stroke-width="1.05"/>
<circle cx="642.00" cy="370.35" r="2.35" fill="rgba(0,0,0,0.2)" stroke="rgba(0,0,0,0.62)" stroke-width="1.05"/>
<circle cx="593.80" cy="375.57" r="2.35" fill="rgba(0,0,0,0.2)" stroke="rgba(0,0,0,0.62)" stroke-width="1.05"/>
<circle cx="618.73" cy="378.60" r="2.35" fill="rgba(0,0,0,0.2)" stroke="rgba(0,0,0,0.62)" stroke-width="1.05"/>
<circle cx="611.67" cy="381.07" r="2.35" fill="rgba(0,0,0,0.2)" stroke="rgba(0,0,0,0.62)" stroke-width="1.05"/>
<circle cx="607.27" cy="382.77" r="2.35" fill="rgba(0,0,0,0.2)" stroke="rgba(0,0,0,0.62)" stroke-width="1.05"/>
<circle cx="593.30" cy="383.27" r="2.35" fill="rgba(0,0,0,0.2)" stroke="rgba(0,0,0,0.62)" stroke-width="1.05"/>
<circle cx="585.30" cy="383.27" r="2.35" fill="rgba(0,0,0,0.2)" stroke="rgba(0,0,0,0.62)" stroke-width="1.05"/>
<circle cx="602.73" cy="384.97" r="2.35" fill="rgba(0,0,0,0.2)" stroke="rgba(0,0,0,0.62)" stroke-width="1.05"/>
<circle cx="625.75" cy="390.20" r="2.35" fill="rgba(0,0,0,0.2)" stroke="rgba(0,0,0,0.62)" stroke-width="1.05"/>
<circle cx="611.40" cy="392.10" r="2.35" fill="rgba(0,0,0,0.2)" stroke="rgba(0,0,0,0.62)" stroke-width="1.05"/>
<circle cx="611.37" cy="394.43" r="2.35" fill="rgba(0,0,0,0.2)" stroke="rgba(0,0,0,0.62)" stroke-width="1.05"/>
<circle cx="588.00" cy="394.33" r="2.35" fill="rgba(0,0,0,0.2)" stroke="rgba(0,0,0,0.62)" stroke-width="1.05"/>
<circle cx="586.67" cy="397.52" r="2.35" fill="rgba(0,0,0,0.2)" stroke="rgba(0,0,0,0.62)" stroke-width="1.05"/>
<circle cx="616.65" cy="397.95" r="2.35" fill="rgba(0,0,0,0.2)" stroke="rgba(0,0,0,0.62)" stroke-width="1.05"/>
<circle cx="647.77" cy="400.83" r="2.35" fill="rgba(0,0,0,0.2)" stroke="rgba(0,0,0,0.62)" stroke-width="1.05"/>
<circle cx="586.00" cy="401.80" r="2.35" fill="rgba(0,0,0,0.2)" stroke="rgba(0,0,0,0.62)" stroke-width="1.05"/>
<circle cx="593.95" cy="408.10" r="2.35" fill="rgba(0,0,0,0.2)" stroke="rgba(0,0,0,0.62)" stroke-width="1.05"/>
<circle cx="601.50" cy="406.05" r="2.35" fill="rgba(0,0,0,0.2)" stroke="rgba(0,0,0,0.62)" stroke-width="1.05"/>
<circle cx="603.70" cy="404.95" r="2.35" fill="rgba(0,0,0,0.2)" stroke="rgba(0,0,0,0.62)" stroke-width="1.05"/>
<circle cx="603.90" cy="412.10" r="2.35" fill="rgba(0,0,0,0.2)" stroke="rgba(0,0,0,0.62)" stroke-width="1.05"/>
<circle cx="581.10" cy="410.30" r="2.35" fill="rgba(0,0,0,0.2)" stroke="rgba(0,0,0,0.62)" stroke-width="1.05"/>
<circle cx="561.80" cy="413.30" r="2.35" fill="rgba(0,0,0,0.2)" stroke="rgba(0,0,0,0.62)" stroke-width="1.05"/>
<circle cx="566.20" cy="414.80" r="2.35" fill="rgba(0,0,0,0.2)" stroke="rgba(0,0,0,0.62)" stroke-width="1.05"/>
<circle cx="568.10" cy="414.80" r="2.35" fill="rgba(0,0,0,0.2)" stroke="rgba(0,0,0,0.62)" stroke-width="1.05"/>
<circle cx="580.10" cy="415.55" r="2.35" fill="rgba(0,0,0,0.2)" stroke="rgba(0,0,0,0.62)" stroke-width="1.05"/>
<circle cx="593.55" cy="415.55" r="2.35" fill="rgba(0,0,0,0.2)" stroke="rgba(0,0,0,0.62)" stroke-width="1.05"/>
<circle cx="608.25" cy="420.90" r="2.35" fill="rgba(0,0,0,0.2)" stroke="rgba(0,0,0,0.62)" stroke-width="1.05"/>
<circle cx="575.50" cy="417.70" r="2.35" fill="rgba(0,0,0,0.2)" stroke="rgba(0,0,0,0.62)" stroke-width="1.05"/>
<circle cx="585.80" cy="418.90" r="2.35" fill="rgba(0,0,0,0.2)" stroke="rgba(0,0,0,0.62)" stroke-width="1.05"/>
<circle cx="588.40" cy="422.05" r="2.35" fill="rgba(0,0,0,0.2)" stroke="rgba(0,0,0,0.62)" stroke-width="1.05"/>
<circle cx="583.60" cy="423.30" r="2.35" fill="rgba(0,0,0,0.2)" stroke="rgba(0,0,0,0.62)" stroke-width="1.05"/>
<circle cx="580.90" cy="426.23" r="2.35" fill="rgba(0,0,0,0.2)" stroke="rgba(0,0,0,0.62)" stroke-width="1.05"/>
<circle cx="584.60" cy="427.05" r="2.35" fill="rgba(0,0,0,0.2)" stroke="rgba(0,0,0,0.62)" stroke-width="1.05"/>
<circle cx="559.60" cy="433.30" r="2.35" fill="rgba(0,0,0,0.2)" stroke="rgba(0,0,0,0.62)" stroke-width="1.05"/>
<circle cx="576.45" cy="436.15" r="2.35" fill="rgba(0,0,0,0.2)" stroke="rgba(0,0,0,0.62)" stroke-width="1.05"/>
<circle cx="585.35" cy="435.90" r="2.35" fill="rgba(0,0,0,0.2)" stroke="rgba(0,0,0,0.62)" stroke-width="1.05"/>
<circle cx="582.10" cy="439.23" r="2.35" fill="rgba(0,0,0,0.2)" stroke="rgba(0,0,0,0.62)" stroke-width="1.05"/>
<circle cx="513.10" cy="499.40" r="2.35" fill="rgba(0,0,0,0.2)" stroke="rgba(0,0,0,0.62)" stroke-width="1.05"/>
<circle cx="526.40" cy="488.60" r="2.35" fill="rgba(0,0,0,0.2)" stroke="rgba(0,0,0,0.62)" stroke-width="1.05"/>
<circle cx="530.00" cy="485.40" r="2.35" fill="rgba(0,0,0,0.2)" stroke="rgba(0,0,0,0.62)" stroke-width="1.05"/>
<circle cx="535.20" cy="484.60" r="2.35" fill="rgba(0,0,0,0.2)" stroke="rgba(0,0,0,0.62)" stroke-width="1.05"/>
<circle cx="525.60" cy="475.80" r="2.35" fill="rgba(0,0,0,0.2)" stroke="rgba(0,0,0,0.62)" stroke-width="1.05"/>
<circle cx="532.20" cy="476.50" r="2.35" fill="rgba(0,0,0,0.2)" stroke="rgba(0,0,0,0.62)" stroke-width="1.05"/>
<circle cx="537.40" cy="475.80" r="2.35" fill="rgba(0,0,0,0.2)" stroke="rgba(0,0,0,0.62)" stroke-width="1.05"/>
<circle cx="540.30" cy="475.80" r="2.35" fill="rgba(0,0,0,0.2)" stroke="rgba(0,0,0,0.62)" stroke-width="1.05"/>
<circle cx="541.10" cy="480.70" r="2.35" fill="rgba(0,0,0,0.2)" stroke="rgba(0,0,0,0.62)" stroke-width="1.05"/>
<circle cx="540.30" cy="467.40" r="2.35" fill="rgba(0,0,0,0.2)" stroke="rgba(0,0,0,0.62)" stroke-width="1.05"/>
<circle cx="546.50" cy="463.60" r="2.35" fill="rgba(0,0,0,0.2)" stroke="rgba(0,0,0,0.62)" stroke-width="1.05"/>
<circle cx="545.10" cy="459.30" r="2.35" fill="rgba(0,0,0,0.2)" stroke="rgba(0,0,0,0.62)" stroke-width="1.05"/>
<circle cx="554.30" cy="466.20" r="2.35" fill="rgba(0,0,0,0.2)" stroke="rgba(0,0,0,0.62)" stroke-width="1.05"/>
<circle cx="557.70" cy="460.10" r="2.35" fill="rgba(0,0,0,0.2)" stroke="rgba(0,0,0,0.62)" stroke-width="1.05"/>
<circle cx="563.20" cy="459.20" r="2.35" fill="rgba(0,0,0,0.2)" stroke="rgba(0,0,0,0.62)" stroke-width="1.05"/>
<circle cx="557.70" cy="456.70" r="2.35" fill="rgba(0,0,0,0.2)" stroke="rgba(0,0,0,0.62)" stroke-width="1.05"/>
<circle cx="560.70" cy="453.70" r="2.35" fill="rgba(0,0,0,0.2)" stroke="rgba(0,0,0,0.62)" stroke-width="1.05"/>
<circle cx="559.50" cy="450.80" r="2.35" fill="rgba(0,0,0,0.2)" stroke="rgba(0,0,0,0.62)" stroke-width="1.05"/>
<circle cx="543.75" cy="453.00" r="2.35" fill="rgba(0,0,0,0.2)" stroke="rgba(0,0,0,0.62)" stroke-width="1.05"/>
<circle cx="547.00" cy="450.00" r="2.35" fill="rgba(0,0,0,0.2)" stroke="rgba(0,0,0,0.62)" stroke-width="1.05"/>
<circle cx="549.20" cy="451.50" r="2.35" fill="rgba(0,0,0,0.2)" stroke="rgba(0,0,0,0.62)" stroke-width="1.05"/>
<circle cx="551.80" cy="447.80" r="2.35" fill="rgba(0,0,0,0.2)" stroke="rgba(0,0,0,0.62)" stroke-width="1.05"/>
<circle cx="555.40" cy="444.90" r="2.35" fill="rgba(0,0,0,0.2)" stroke="rgba(0,0,0,0.62)" stroke-width="1.05"/>
<circle cx="556.50" cy="451.50" r="2.35" fill="rgba(0,0,0,0.2)" stroke="rgba(0,0,0,0.62)" stroke-width="1.05"/>
<circle cx="562.90" cy="446.10" r="2.35" fill="rgba(0,0,0,0.2)" stroke="rgba(0,0,0,0.62)" stroke-width="1.05"/>
<circle cx="561.00" cy="440.90" r="2.35" fill="rgba(0,0,0,0.2)" stroke="rgba(0,0,0,0.62)" stroke-width="1.05"/>
<circle cx="570.50" cy="446.10" r="2.35" fill="rgba(0,0,0,0.2)" stroke="rgba(0,0,0,0.62)" stroke-width="1.05"/>
<circle cx="575.40" cy="442.70" r="2.35" fill="rgba(0,0,0,0.2)" stroke="rgba(0,0,0,0.62)" stroke-width="1.05"/>
<circle cx="575.70" cy="455.20" r="2.35" fill="rgba(0,0,0,0.2)" stroke="rgba(0,0,0,0.62)" stroke-width="1.05"/>
<circle cx="561.70" cy="436.80" r="2.35" fill="rgba(0,0,0,0.2)" stroke="rgba(0,0,0,0.62)" stroke-width="1.05"/>
<circle cx="580.10" cy="439.70" r="2.35" fill="rgba(0,0,0,0.2)" stroke="rgba(0,0,0,0.62)" stroke-width="1.05"/>
<circle cx="583.60" cy="445.70" r="2.35" fill="rgba(0,0,0,0.2)" stroke="rgba(0,0,0,0.62)" stroke-width="1.05"/>
<circle cx="620.10" cy="400.85" r="2.35" fill="rgba(0,0,0,0.2)" stroke="rgba(0,0,0,0.62)" stroke-width="1.05"/>
<circle cx="594.40" cy="402.40" r="2.35" fill="rgba(0,0,0,0.2)" stroke="rgba(0,0,0,0.62)" stroke-width="1.05"/>
<circle cx="587.70" cy="465.40" r="2.35" fill="rgba(0,0,0,0.2)" stroke="rgba(0,0,0,0.62)" stroke-width="1.05"/>
<circle cx="566.70" cy="429.47" r="2.35" fill="rgba(0,0,0,0.45)" stroke="rgba(0,0,0,0.7)" stroke-width="1.05"/>
<circle cx="569.00" cy="426.00" r="2.35" fill="rgba(0,0,0,0.45)" stroke="rgba(0,0,0,0.7)" stroke-width="1.05"/>
<circle cx="571.90" cy="422.95" r="2.35" fill="rgba(0,0,0,0.45)" stroke="rgba(0,0,0,0.7)" stroke-width="1.05"/>
<circle cx="574.00" cy="420.00" r="2.35" fill="rgba(0,0,0,0.45)" stroke="rgba(0,0,0,0.7)" stroke-width="1.05"/>
<circle cx="565.23" cy="440.63" r="2.35" fill="rgba(0,0,0,0.45)" stroke="rgba(0,0,0,0.7)" stroke-width="1.05"/>
<circle cx="563.00" cy="437.50" r="2.35" fill="rgba(0,0,0,0.45)" stroke="rgba(0,0,0,0.7)" stroke-width="1.05"/>
<circle cx="581.25" cy="394.35" r="2.35" fill="rgba(0,0,0,0.45)" stroke="rgba(0,0,0,0.7)" stroke-width="1.05"/>
<circle cx="594.40" cy="402.70" r="2.35" fill="rgba(0,0,0,0.45)" stroke="rgba(0,0,0,0.7)" stroke-width="1.05"/>
<circle cx="576.00" cy="421.10" r="2.35" fill="rgba(0,0,0,0.45)" stroke="rgba(0,0,0,0.7)" stroke-width="1.05"/>
<circle cx="594.65" cy="428.85" r="2.35" fill="rgba(0,0,0,0.45)" stroke="rgba(0,0,0,0.7)" stroke-width="1.05"/>
<circle cx="571.10" cy="425.50" r="2.35" fill="rgba(0,0,0,0.45)" stroke="rgba(0,0,0,0.7)" stroke-width="1.05"/>
<circle cx="568.10" cy="430.40" r="2.35" fill="rgba(0,0,0,0.45)" stroke="rgba(0,0,0,0.7)" stroke-width="1.05"/>
<circle cx="564.95" cy="433.35" r="2.35" fill="rgba(0,0,0,0.45)" stroke="rgba(0,0,0,0.7)" stroke-width="1.05"/>
<line x1="506.1" y1="506.8" x2="678.9" y2="311.4" stroke="#000" stroke-width="1.3"/>
<rect x="506.1" y="311.6" width="55.2" height="23" fill="#fff" stroke="#555" stroke-width="1"/>
<path d="M506.1,334.6 L561.3,334.6 L561.3,311.6" fill="none" stroke="#222" stroke-width="1.5"/>
<text x="555.30" y="327.20" font-size="9.6" text-anchor="end" >r = 0.91</text>
<line x1="505.70" y1="315.75" x2="505.70" y2="486.00" stroke="#000" stroke-width="1.1" fill="none" stroke-linecap="square"/>
<line x1="501.50" y1="315.75" x2="505.70" y2="315.75" stroke="#000" stroke-width="1.1" fill="none"/>
<text x="497.80" y="321.00" font-size="12.5" text-anchor="end" >1.5</text>
<line x1="501.50" y1="349.80" x2="505.70" y2="349.80" stroke="#000" stroke-width="1.1" fill="none"/>
<text x="497.80" y="355.05" font-size="12.5" text-anchor="end" >1</text>
<line x1="501.50" y1="383.85" x2="505.70" y2="383.85" stroke="#000" stroke-width="1.1" fill="none"/>
<text x="497.80" y="389.10" font-size="12.5" text-anchor="end" >0.5</text>
<line x1="501.50" y1="417.90" x2="505.70" y2="417.90" stroke="#000" stroke-width="1.1" fill="none"/>
<text x="497.80" y="423.15" font-size="12.5" text-anchor="end" >0</text>
<line x1="501.50" y1="451.95" x2="505.70" y2="451.95" stroke="#000" stroke-width="1.1" fill="none"/>
<text x="497.80" y="457.20" font-size="12.5" text-anchor="end" >−0.5</text>
<line x1="501.50" y1="486.00" x2="505.70" y2="486.00" stroke="#000" stroke-width="1.1" fill="none"/>
<text x="497.80" y="491.25" font-size="12.5" text-anchor="end" >−1</text>
<line x1="524.05" y1="506.90" x2="674.67" y2="506.90" stroke="#000" stroke-width="1.1" fill="none" stroke-linecap="square"/>
<line x1="524.05" y1="506.90" x2="524.05" y2="510.50" stroke="#000" stroke-width="1.1" fill="none"/>
<text x="524.05" y="525.10" font-size="12.3" text-anchor="middle" >−1</text>
<line x1="554.17" y1="506.90" x2="554.17" y2="510.50" stroke="#000" stroke-width="1.1" fill="none"/>
<line x1="584.30" y1="506.90" x2="584.30" y2="510.50" stroke="#000" stroke-width="1.1" fill="none"/>
<text x="584.30" y="525.10" font-size="12.3" text-anchor="middle" >0</text>
<line x1="614.42" y1="506.90" x2="614.42" y2="510.50" stroke="#000" stroke-width="1.1" fill="none"/>
<text x="614.42" y="525.10" font-size="12.3" text-anchor="middle" >0.5</text>
<line x1="644.55" y1="506.90" x2="644.55" y2="510.50" stroke="#000" stroke-width="1.1" fill="none"/>
<text x="644.55" y="525.10" font-size="12.3" text-anchor="middle" >1</text>
<line x1="674.67" y1="506.90" x2="674.67" y2="510.50" stroke="#000" stroke-width="1.1" fill="none"/>
<text x="674.67" y="525.10" font-size="12.3" text-anchor="middle" >1.5</text>
<text x="570.0" y="538.9" font-size="12.8">ES</text><text x="586.9" y="541.1" font-size="8.9">CHRIS</text>
<g transform="translate(472.90,433.80) rotate(-90)">
<text x="0.00" y="0.00" font-size="13.2">ES</text>
<text x="18.00" y="2.50" font-size="8.9">BASE-II</text>
</g>
</svg></body></html>
